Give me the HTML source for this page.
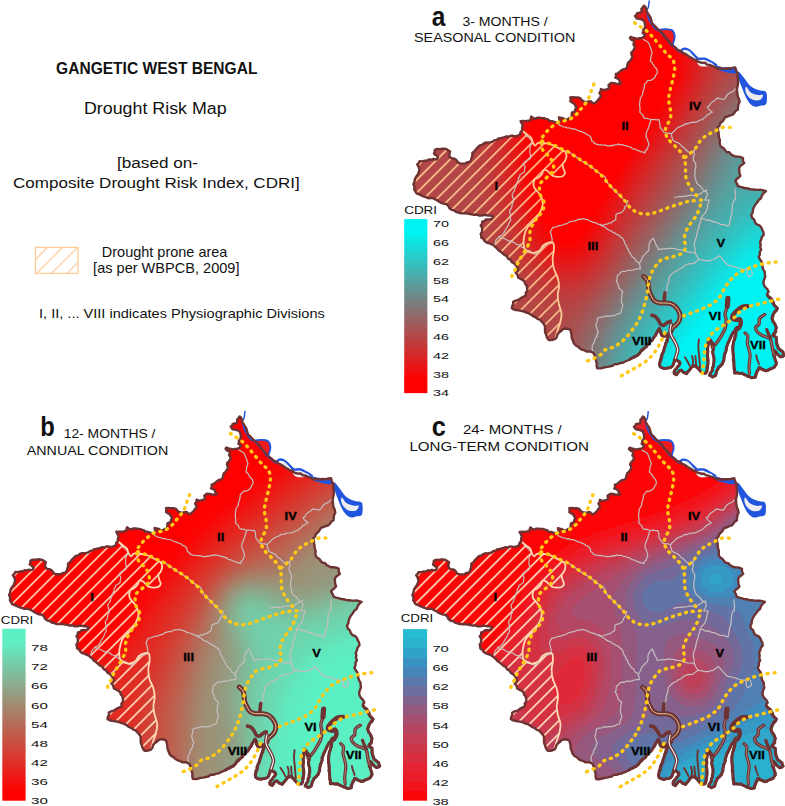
<!DOCTYPE html>
<html><head><meta charset="utf-8"><title>Gangetic West Bengal Drought Risk Map</title>
<style>html,body{margin:0;padding:0;background:#fff}svg{display:block}text{font-family:"Liberation Sans",sans-serif}</style>
</head><body>
<svg width="785" height="806" viewBox="0 0 785 806">
<rect width="785" height="806" fill="#fff"/>

<defs>
<path id="land" d="M643.9,5.7 L642.8,7.5 L641.4,8.9 L641.6,10.9 L640.8,12.7 L638.8,12.8 L636.9,13.4 L636.4,15.0 L635.0,15.9 L635.9,17.2 L636.9,18.5 L639.5,18.9 L642.0,19.7 L643.7,20.6 L644.6,22.3 L644.9,24.2 L645.2,26.1 L644.8,28.3 L643.3,29.9 L643.1,31.5 L642.7,33.1 L645.2,34.4 L643.9,36.9 L641.9,38.1 L639.5,38.2 L637.2,38.8 L635.0,38.2 L632.8,37.7 L630.6,36.9 L629.9,38.2 L631.6,39.9 L633.8,40.8 L634.1,42.8 L633.4,44.6 L634.5,46.0 L635.0,47.8 L633.9,49.3 L633.1,51.0 L631.7,51.9 L631.2,53.5 L631.7,55.1 L632.5,56.7 L631.3,59.0 L629.9,61.1 L628.1,62.7 L627.4,65.0 L627.0,67.2 L625.5,68.8 L623.1,69.3 L621.0,70.7 L619.5,72.0 L617.9,73.3 L615.9,73.9 L616.1,75.9 L615.3,77.7 L617.3,78.4 L619.1,79.6 L619.7,81.7 L621.0,83.4 L618.6,84.0 L616.2,83.7 L613.9,83.2 L611.6,82.9 L609.9,83.9 L608.5,85.2 L609.1,86.7 L609.3,88.3 L607.4,89.0 L605.5,89.8 L603.1,90.0 L600.9,89.0 L600.7,91.2 L599.4,92.9 L600.5,94.6 L600.9,96.7 L599.2,98.4 L597.8,100.5 L596.0,102.1 L594.0,103.6 L592.3,102.7 L591.0,101.3 L589.0,101.5 L587.1,102.0 L585.2,101.7 L583.3,101.3 L581.6,99.9 L580.3,98.2 L577.7,97.4 L574.9,97.5 L572.6,97.2 L570.3,97.5 L570.7,99.4 L570.3,101.3 L572.1,102.5 L574.1,103.6 L575.2,105.5 L576.4,107.4 L575.2,109.5 L574.9,112.0 L573.3,112.0 L571.8,112.7 L571.7,115.4 L571.1,118.1 L569.0,118.2 L567.3,119.6 L564.8,119.4 L562.7,118.1 L560.8,117.8 L558.9,117.3 L559.3,119.3 L560.4,121.1 L558.7,122.3 L556.6,122.7 L554.3,121.9 L552.0,121.1 L549.7,121.0 L548.0,119.4 L545.9,118.9 L543.9,118.2 L541.8,118.1 L539.7,117.8 L537.3,117.8 L535.2,118.9 L533.1,118.0 L531.3,116.6 L530.7,118.5 L530.6,120.4 L528.3,120.6 L526.0,121.1 L523.3,121.0 L520.6,121.1 L521.8,123.4 L522.9,125.7 L522.1,127.9 L522.2,130.3 L520.5,132.3 L519.9,134.9 L517.6,135.7 L515.3,136.4 L513.0,135.8 L510.7,135.7 L508.8,136.8 L506.6,136.4 L504.6,137.2 L502.8,137.6 L500.7,138.2 L498.5,138.5 L496.7,139.9 L494.5,140.2 L492.7,141.7 L490.6,142.2 L488.6,142.6 L486.5,142.5 L484.5,143.0 L482.5,144.7 L479.9,145.3 L478.0,147.2 L476.1,149.1 L474.5,151.3 L472.3,152.9 L472.4,155.7 L471.5,158.3 L470.9,160.5 L469.2,162.1 L467.1,162.2 L465.3,163.6 L463.1,163.6 L460.7,163.6 L458.5,162.9 L457.2,161.4 L456.2,159.8 L454.1,158.6 L451.6,158.3 L450.0,157.1 L449.3,155.2 L449.6,153.3 L450.1,151.4 L448.2,150.2 L446.3,149.1 L444.3,148.6 L442.2,148.7 L440.2,149.1 L437.4,149.0 L434.8,149.9 L434.7,151.9 L434.0,153.7 L436.0,155.2 L437.9,156.8 L437.1,159.0 L435.1,159.5 L433.0,159.0 L431.0,159.8 L428.9,159.4 L427.0,160.8 L424.9,160.6 L422.3,161.4 L419.5,161.3 L418.7,163.1 L417.2,164.4 L418.7,166.9 L419.5,169.7 L418.8,172.0 L418.0,174.3 L416.3,176.5 L414.9,178.9 L414.5,181.7 L413.4,184.3 L414.5,186.8 L414.2,189.6 L415.4,191.4 L416.5,193.4 L419.2,194.4 L421.8,195.7 L424.1,196.6 L426.4,197.3 L428.4,198.2 L430.4,198.0 L432.5,198.0 L434.8,199.2 L437.1,200.3 L438.9,201.6 L440.9,202.6 L443.5,203.6 L446.3,204.1 L448.3,205.7 L449.3,208.0 L451.3,209.7 L453.9,210.3 L456.0,211.8 L458.5,212.5 L461.0,213.3 L463.5,213.4 L466.1,213.3 L468.7,213.7 L471.3,214.2 L473.8,214.8 L476.4,214.5 L478.8,215.5 L481.4,215.6 L483.7,215.0 L486.0,215.0 L488.3,215.6 L490.7,215.6 L492.9,216.4 L492.1,218.7 L490.1,219.4 L488.1,219.4 L486.0,219.4 L484.4,221.1 L482.2,221.7 L482.1,223.9 L480.7,225.5 L481.9,227.3 L482.2,229.4 L482.0,231.8 L480.7,233.9 L481.2,235.8 L481.4,237.8 L483.4,238.8 L484.5,240.8 L486.3,242.3 L488.5,243.0 L490.6,243.9 L493.2,245.0 L495.2,246.9 L496.9,248.2 L498.2,250.0 L500.3,251.4 L502.3,253.1 L504.2,254.8 L506.7,256.1 L508.2,258.6 L510.6,259.9 L511.8,262.1 L514.0,263.3 L515.7,265.0 L517.0,266.9 L518.2,268.8 L517.4,271.0 L515.7,272.6 L517.5,274.9 L518.2,277.7 L520.4,278.8 L522.6,280.0 L524.6,281.5 L525.0,283.8 L526.7,285.6 L527.1,287.9 L527.4,290.5 L525.7,292.9 L525.9,295.5 L523.3,296.8 L520.8,298.1 L518.5,299.8 L515.6,300.6 L513.1,301.9 L513.3,304.2 L512.2,306.2 L511.8,308.3 L513.9,309.6 L516.2,310.0 L518.5,310.4 L520.8,310.8 L523.5,311.4 L526.0,312.5 L528.6,313.2 L531.0,314.6 L533.0,316.2 L535.4,317.2 L537.5,318.8 L539.9,319.7 L541.8,321.7 L543.6,323.7 L545.0,326.1 L545.0,329.1 L545.1,332.1 L546.2,335.0 L547.1,337.8 L548.8,340.1 L551.0,340.1 L553.1,339.7 L555.2,338.9 L556.8,336.9 L557.4,334.4 L559.0,332.5 L560.7,331.3 L562.3,329.8 L564.1,328.7 L566.3,328.5 L568.4,328.9 L570.4,329.9 L571.1,332.4 L571.6,335.0 L571.7,337.6 L572.7,340.3 L573.7,343.0 L575.5,345.2 L577.8,346.4 L579.7,348.3 L581.9,349.6 L584.5,350.3 L586.5,351.6 L589.0,351.4 L591.3,351.9 L593.4,352.9 L594.6,355.3 L595.5,357.8 L595.9,360.5 L596.7,363.0 L596.6,365.7 L597.2,368.2 L599.8,368.4 L602.4,368.0 L604.8,367.2 L607.4,366.9 L610.0,366.3 L612.6,365.8 L614.9,364.1 L617.6,364.1 L620.1,363.1 L622.8,362.7 L625.2,361.5 L627.7,360.5 L630.0,359.2 L632.4,358.0 L634.5,356.4 L637.1,355.6 L639.3,353.9 L640.7,351.5 L643.1,350.0 L644.7,347.7 L646.7,346.6 L647.7,344.5 L649.4,343.0 L650.9,340.9 L653.0,339.5 L654.1,337.1 L655.6,335.3 L656.1,332.9 L657.7,331.2 L658.1,329.5 L659.4,328.3 L660.7,330.5 L660.5,333.2 L661.8,335.4 L663.5,336.2 L665.3,336.2 L666.3,334.6 L668.0,333.8 L667.7,335.5 L668.3,337.1 L666.7,339.6 L666.1,342.6 L665.3,345.4 L664.5,348.2 L663.3,350.8 L662.4,353.6 L662.1,356.5 L661.5,359.3 L660.0,361.9 L659.3,364.2 L660.0,366.6 L661.7,367.7 L663.6,368.4 L666.6,368.1 L669.5,367.8 L671.6,367.1 L673.0,365.4 L673.6,362.7 L674.4,360.1 L675.4,358.4 L676.2,359.9 L677.7,360.7 L678.6,362.2 L680.1,363.1 L679.2,365.1 L677.7,366.6 L676.5,368.6 L674.8,370.1 L674.8,371.9 L674.2,373.7 L676.5,374.8 L677.4,372.8 L678.9,371.3 L681.2,370.1 L682.3,371.4 L683.6,372.5 L685.2,372.8 L686.5,373.7 L687.9,371.8 L689.5,370.1 L690.3,368.1 L691.9,366.6 L693.8,366.5 L695.4,365.4 L696.7,366.5 L697.7,367.8 L698.9,369.2 L700.1,370.7 L701.2,371.8 L702.5,372.7 L704.2,373.5 L706.0,373.1 L706.5,370.5 L707.8,368.1 L707.8,365.4 L707.7,363.0 L707.6,360.7 L707.5,358.3 L707.4,356.0 L706.9,353.6 L707.6,351.3 L707.3,348.9 L707.9,346.6 L707.4,343.8 L708.8,341.1 L708.6,338.3 L710.3,340.1 L711.2,342.4 L712.3,344.9 L713.4,347.5 L712.8,350.2 L712.8,353.0 L713.1,355.2 L713.8,357.4 L714.0,359.7 L713.8,361.9 L713.5,364.2 L713.4,366.4 L712.3,368.1 L712.4,370.3 L711.2,372.0 L710.3,373.7 L709.5,375.4 L711.1,375.9 L712.3,377.0 L713.8,375.9 L715.6,375.4 L716.5,373.2 L716.7,370.9 L717.6,369.2 L718.4,367.5 L720.2,365.9 L721.8,364.2 L722.3,364.2 L723.2,362.1 L724.0,359.9 L724.0,357.5 L724.8,354.7 L725.7,351.9 L726.4,349.7 L726.8,347.4 L727.3,345.2 L728.1,343.3 L729.1,341.6 L729.6,339.6 L730.5,337.7 L731.5,336.0 L732.4,334.1 L733.8,331.8 L735.8,330.0 L736.8,327.4 L737.4,328.5 L736.6,330.7 L735.8,332.8 L735.7,335.2 L734.4,337.2 L734.6,339.8 L733.5,341.9 L733.2,344.1 L732.5,346.3 L732.9,348.6 L732.6,351.6 L733.8,354.5 L733.5,357.5 L734.2,360.4 L733.9,363.4 L734.0,366.4 L734.8,368.6 L734.8,370.8 L734.6,373.1 L736.5,372.5 L738.3,373.1 L740.0,373.3 L741.7,373.1 L743.8,374.6 L746.2,375.4 L747.8,376.7 L750.1,376.6 L751.7,377.8 L753.7,377.7 L755.6,377.0 L756.2,375.1 L756.4,373.1 L756.8,371.0 L758.6,369.6 L759.0,367.5 L760.1,368.9 L761.8,369.2 L764.1,369.7 L766.2,370.9 L768.2,370.6 L769.6,369.2 L771.8,368.2 L774.1,367.5 L775.2,365.8 L776.3,364.2 L776.4,361.8 L775.2,359.7 L774.8,357.3 L773.5,355.3 L773.6,352.9 L774.6,350.8 L776.1,352.4 L777.4,354.2 L779.1,355.6 L780.8,356.9 L782.4,355.9 L784.1,355.3 L783.1,353.7 L783.0,351.9 L780.6,350.5 L778.5,348.6 L778.0,346.2 L776.9,344.1 L776.0,341.9 L776.6,339.6 L776.3,337.4 L774.6,336.4 L772.9,335.2 L773.8,333.1 L775.7,331.8 L775.8,329.6 L776.3,327.4 L775.4,325.1 L774.1,322.9 L773.0,320.6 L771.8,318.4 L772.4,315.4 L774.1,312.9 L776.3,311.1 L777.4,308.4 L776.0,306.4 L774.1,305.0 L773.6,302.0 L771.8,299.5 L769.9,298.4 L768.6,296.7 L767.4,295.0 L767.4,293.2 L768.6,291.8 L767.3,289.1 L765.1,287.0 L763.7,284.3 L763.5,281.8 L764.2,279.3 L765.2,276.9 L764.9,274.4 L764.7,271.8 L763.3,269.5 L762.5,267.1 L762.4,264.5 L761.7,261.7 L760.0,259.5 L758.7,257.0 L759.8,254.6 L759.8,251.9 L761.2,249.6 L760.2,247.2 L760.7,244.6 L760.0,242.2 L761.1,239.7 L761.9,236.9 L763.7,234.7 L763.4,232.0 L762.2,229.7 L761.2,227.3 L759.4,225.3 L756.7,224.4 L755.0,222.3 L754.2,219.6 L752.0,217.6 L751.3,214.9 L752.6,212.6 L752.9,209.9 L753.8,207.4 L755.2,204.8 L757.1,202.5 L758.7,200.0 L761.0,198.2 L762.0,195.3 L763.7,193.0 L765.9,191.1 L763.4,190.4 L760.8,189.8 L758.2,189.9 L755.7,189.8 L753.1,189.5 L750.6,189.4 L748.1,188.5 L745.5,188.3 L742.9,187.5 L740.4,186.9 L737.9,186.0 L736.9,183.3 L735.3,180.9 L736.8,179.0 L738.7,177.5 L740.4,175.8 L739.5,173.3 L739.3,170.8 L739.1,168.2 L740.3,166.0 L742.3,164.6 L744.2,163.1 L742.9,160.7 L743.0,158.0 L740.5,157.0 L737.9,156.6 L735.2,156.5 L732.8,155.4 L730.9,154.2 L729.3,152.3 L726.7,152.0 L725.1,150.3 L723.7,148.3 L721.6,147.0 L720.0,145.2 L719.7,142.7 L719.9,140.0 L719.0,137.6 L718.8,135.0 L718.4,132.5 L718.2,129.9 L717.5,127.4 L719.3,126.1 L719.9,123.9 L721.3,122.3 L722.9,120.9 L724.1,119.1 L725.1,117.2 L727.7,116.5 L730.2,115.3 L732.8,114.6 L734.4,112.8 L735.8,110.8 L737.9,109.6 L738.0,106.9 L738.4,104.3 L739.6,101.9 L739.1,99.2 L737.9,96.8 L737.4,94.3 L737.2,91.7 L736.9,89.2 L737.4,86.6 L738.0,84.1 L738.1,81.5 L737.9,79.0 L737.5,76.4 L737.9,73.9 L736.7,71.9 L735.9,69.7 L735.3,67.5 L732.8,67.8 L730.3,68.5 L727.7,68.3 L725.2,68.5 L722.6,68.9 L720.0,68.0 L717.5,68.8 L715.2,66.9 L712.4,66.2 L709.8,65.0 L707.2,64.6 L704.9,62.8 L702.1,62.9 L699.6,62.1 L697.1,61.1 L696.8,59.9 L694.0,59.6 L691.7,58.0 L689.9,57.1 L688.3,55.9 L686.6,54.8 L684.9,53.7 L683.0,53.0 L681.5,51.6 L679.8,50.5 L677.7,50.1 L676.4,48.4 L674.5,47.1 L672.6,45.8 L671.3,43.9 L669.3,41.8 L667.5,39.5 L665.7,38.2 L664.4,36.5 L663.7,34.4 L661.6,32.7 L659.9,30.6 L657.8,29.3 L656.1,27.4 L654.2,25.4 L652.2,23.6 L651.6,21.3 L651.0,19.1 L650.3,17.0 L649.0,15.3 L647.9,13.3 L646.5,11.5 L646.5,9.8 L645.9,8.3 L645.3,6.7Z"/>
<clipPath id="clipLand"><use href="#land"/></clipPath>
<clipPath id="clipHatch"><path d="M522.9,131.1 L527.5,134.9 L531.3,138.0 L532.9,142.5 L535.2,145.6 L537.5,143.3 L540.5,142.5 L545.9,143.3 L552.0,144.8 L556.6,147.1 L561.1,149.4 L565.0,151.7 L566.5,156.3 L565.0,160.9 L562.7,163.9 L563.4,168.5 L565.0,173.1 L562.7,176.2 L558.1,176.9 L553.5,176.2 L550.4,173.9 L547.4,170.8 L543.6,170.1 L542.0,173.9 L538.2,177.7 L534.4,180.0 L533.8,186.6 L537.6,191.7 L541.4,196.8 L542.7,204.5 L540.1,212.1 L536.3,218.5 L532.5,222.3 L527.4,227.4 L524.8,233.8 L523.6,241.4 L524.8,249.0 L532.5,252.9 L540.1,250.3 L545.2,243.9 L552.9,242.7 L553.9,249.7 L552.6,258.6 L553.9,268.8 L557.7,277.7 L559.0,286.6 L557.7,295.5 L559.0,304.5 L561.5,313.4 L560.3,322.3 L557.7,329.9 L555.2,338.9 L540.0,345.0 L400.0,345.0 L400.0,100.0 L523.0,100.0Z"/></clipPath>
<pattern id="hatchA" width="9.2" height="9.2" patternUnits="userSpaceOnUse" patternTransform="translate(-3.1,0) rotate(-45)"><rect x="0" y="0" width="9.2" height="1.6" fill="#ffc890"/></pattern>
<pattern id="hatchB" width="9.2" height="9.2" patternUnits="userSpaceOnUse" patternTransform="translate(-3.1,0) rotate(-45)"><rect x="0" y="0" width="9.2" height="1.6" fill="#ffe0c0"/></pattern>
<filter id="fa" x="380" y="-20" width="430" height="440" filterUnits="userSpaceOnUse" color-interpolation-filters="sRGB">
 <feGaussianBlur stdDeviation="24"/>
 <feComponentTransfer><feFuncR type="table" tableValues="1.000 1.000 0.900 0.800 0.700 0.600 0.500 0.400 0.300 0.200 0.100 0.000 0.000"/><feFuncG type="table" tableValues="0.000 0.000 0.095 0.190 0.285 0.380 0.475 0.570 0.665 0.760 0.855 0.950 0.950"/><feFuncB type="table" tableValues="0.000 0.000 0.095 0.190 0.285 0.380 0.475 0.570 0.665 0.760 0.855 0.950 0.950"/><feFuncA type="linear" slope="0" intercept="1"/></feComponentTransfer>
</filter>
<filter id="fb" x="380" y="-20" width="430" height="440" filterUnits="userSpaceOnUse" color-interpolation-filters="sRGB">
 <feGaussianBlur stdDeviation="14"/>
 <feComponentTransfer><feFuncR type="table" tableValues="1 0.36"/><feFuncG type="table" tableValues="0 0.94"/><feFuncB type="table" tableValues="0 0.77"/><feFuncA type="linear" slope="0" intercept="1"/></feComponentTransfer>
</filter>
<filter id="fc" x="380" y="-20" width="430" height="440" filterUnits="userSpaceOnUse" color-interpolation-filters="sRGB">
 <feGaussianBlur stdDeviation="14"/>
 <feComponentTransfer><feFuncR type="discrete" tableValues="0.025 0.075 0.125 0.175 0.225 0.275 0.325 0.375 0.425 0.475 0.525 0.575 0.625 0.675 0.725 0.775 0.825 0.875 0.925 0.975"/><feFuncG type="discrete" tableValues="0.025 0.075 0.125 0.175 0.225 0.275 0.325 0.375 0.425 0.475 0.525 0.575 0.625 0.675 0.725 0.775 0.825 0.875 0.925 0.975"/><feFuncB type="discrete" tableValues="0.025 0.075 0.125 0.175 0.225 0.275 0.325 0.375 0.425 0.475 0.525 0.575 0.625 0.675 0.725 0.775 0.825 0.875 0.925 0.975"/></feComponentTransfer>
 <feGaussianBlur stdDeviation="0.6"/>
 <feComponentTransfer><feFuncR type="table" tableValues="1.0 0.94 0.88 0.78 0.69 0.55 0.39 0.24 0.18 0.14"/><feFuncG type="table" tableValues="0 0.10 0.16 0.23 0.29 0.37 0.45 0.55 0.67 0.76"/><feFuncB type="table" tableValues="0 0.14 0.22 0.31 0.41 0.53 0.65 0.75 0.80 0.84"/><feFuncA type="linear" slope="0" intercept="1"/></feComponentTransfer>
</filter>
<linearGradient id="lgA" x1="0" y1="0" x2="0" y2="1"><stop offset="0" stop-color="#00f2f2"/><stop offset="0.08" stop-color="#00f2f2"/><stop offset="0.92" stop-color="#ff0000"/><stop offset="1" stop-color="#ff0000"/></linearGradient>
<linearGradient id="lgB" x1="0" y1="0" x2="0" y2="1"><stop offset="0" stop-color="#5cf0c4"/><stop offset="0.09" stop-color="#60ecc2"/><stop offset="0.95" stop-color="#ff0000"/><stop offset="1" stop-color="#ff0000"/></linearGradient>
<linearGradient id="lgC" x1="0" y1="0" x2="0" y2="1"><stop offset="0.0000" stop-color="#26bcd3"/><stop offset="0.0556" stop-color="#26bcd3"/><stop offset="0.0556" stop-color="#2bb0ce"/><stop offset="0.1111" stop-color="#2bb0ce"/><stop offset="0.1111" stop-color="#31a3c8"/><stop offset="0.1667" stop-color="#31a3c8"/><stop offset="0.1667" stop-color="#3993c2"/><stop offset="0.2222" stop-color="#3993c2"/><stop offset="0.2222" stop-color="#4685b8"/><stop offset="0.2778" stop-color="#4685b8"/><stop offset="0.2778" stop-color="#5979ac"/><stop offset="0.3333" stop-color="#5979ac"/><stop offset="0.3333" stop-color="#6d6d9e"/><stop offset="0.3889" stop-color="#6d6d9e"/><stop offset="0.3889" stop-color="#82638e"/><stop offset="0.4444" stop-color="#82638e"/><stop offset="0.4444" stop-color="#95597f"/><stop offset="0.5000" stop-color="#95597f"/><stop offset="0.5000" stop-color="#a74f70"/><stop offset="0.5556" stop-color="#a74f70"/><stop offset="0.5556" stop-color="#b54662"/><stop offset="0.6111" stop-color="#b54662"/><stop offset="0.6111" stop-color="#c13e55"/><stop offset="0.6667" stop-color="#c13e55"/><stop offset="0.6667" stop-color="#cd3649"/><stop offset="0.7222" stop-color="#cd3649"/><stop offset="0.7222" stop-color="#da2d3d"/><stop offset="0.7778" stop-color="#da2d3d"/><stop offset="0.7778" stop-color="#e42432"/><stop offset="0.8333" stop-color="#e42432"/><stop offset="0.8333" stop-color="#eb1d28"/><stop offset="0.8889" stop-color="#eb1d28"/><stop offset="0.8889" stop-color="#f3131a"/><stop offset="0.9444" stop-color="#f3131a"/><stop offset="0.9444" stop-color="#fb0608"/><stop offset="1.0000" stop-color="#fb0608"/></linearGradient>
</defs>
<g transform="translate(0,0)"><g clip-path="url(#clipLand)"><g filter="url(#fa)"><rect x="300" y="-100" width="600" height="600" fill="#545454"/><path d="M515.0,95.0 L600.0,60.0 L650.0,-10.0 L700.0,50.0 L686.0,95.0 L642.0,160.0 L605.0,222.0 L578.0,285.0 L545.0,262.0 L515.0,190.0Z" fill="#000000"/><path d="M575.0,420.0 L600.0,330.0 L640.0,270.0 L690.0,200.0 L715.0,150.0 L740.0,100.0 L800.0,80.0 L800.0,420.0Z" fill="#a8a8a8"/><path d="M625.0,420.0 L650.0,345.0 L690.0,290.0 L730.0,240.0 L800.0,180.0 L800.0,420.0Z" fill="#d9d9d9"/><path d="M648.0,420.0 L668.0,352.0 L712.0,305.0 L752.0,258.0 L800.0,215.0 L800.0,420.0Z" fill="#ffffff"/></g></g><g clip-path="url(#clipLand)"><g clip-path="url(#clipHatch)"><rect x="380" y="80" width="220" height="300" fill="url(#hatchA)"/></g></g><path d="M642.7,39.5 L644.5,40.0 L646.2,41.1 L647.8,42.0 L648.9,43.6 L649.6,45.3 L650.3,47.1 L650.9,48.8 L651.4,50.6 L652.2,52.2 L651.9,54.2 L651.0,56.1 L650.8,58.6 L650.3,61.1 L652.2,62.8 L653.5,65.0 L654.8,67.1 L656.7,68.8 L657.2,71.0 L657.3,73.2 L656.0,74.6 L655.4,76.4 L654.1,78.3 L652.2,79.6 L650.1,80.5 L647.8,80.3 L646.3,82.3 L644.6,84.1 L644.3,86.7 L643.9,89.2 L643.2,90.8 L642.7,92.5 L642.7,94.3 L641.4,96.5 L640.1,98.7 L640.2,100.3 L639.8,101.9 L639.6,104.5 L639.8,107.0 L640.1,109.5 L639.8,112.1 L641.2,113.6 L642.8,115.0 L643.4,117.0 L644.9,118.5 L647.1,118.4 L649.2,119.0 L651.2,119.7 L650.4,121.6 L649.8,123.5 L649.2,125.4 L648.7,127.4 L647.9,129.3 L647.1,131.1 L646.3,132.9 L646.1,135.0 L646.1,137.2 L647.3,139.0 L647.8,141.1 L648.6,143.1 L648.7,145.2 L647.8,147.2 L647.1,149.2 L645.4,150.8 L644.9,152.9 L643.1,152.0 L641.0,151.9 L639.2,150.8 L637.2,150.3 L635.1,149.1 L632.6,148.8 L630.7,147.1 L628.3,146.5 L626.3,145.7 L624.2,145.5 L622.3,144.5 L620.0,144.9 L618.1,143.9 L616.6,145.0 L614.7,144.8 L613.1,145.6 L611.1,145.4 L609.0,146.1 L607.0,145.6 L605.0,145.2 L602.9,145.0 L600.9,144.8 L598.6,144.6 L596.3,144.1 L594.5,143.4 L593.4,141.7 L591.7,141.0 L591.4,138.6 L590.2,136.4 L588.7,135.3 L587.0,134.7 L585.6,133.4 L583.6,132.6 L581.6,131.7 L579.5,131.1 L577.5,130.3 L575.6,129.3 L573.4,128.8 L571.3,128.8 L569.4,127.8 L567.3,128.0 L565.3,127.0 L563.0,126.8 L561.1,125.7 L559.3,125.1 L558.3,123.4 L556.6,122.7" fill="none" stroke="#c6bebe" stroke-width="1.2" stroke-linejoin="round"/><path d="M651.2,119.7 L653.8,119.3 L656.3,119.9 L658.9,119.7 L659.4,121.6 L659.9,123.5 L659.9,125.5 L660.2,127.4 L661.5,129.1 L662.8,130.8 L664.0,132.5 L666.5,132.9 L669.1,133.1 L671.6,133.8 L673.0,132.0 L674.9,130.7 L676.3,128.9 L678.0,127.4 L680.0,126.6 L681.9,125.8 L683.9,124.9 L685.6,123.6 L687.9,123.8 L690.1,122.7 L692.3,122.3 L694.6,122.3 L696.6,121.9 L698.4,121.1 L700.2,120.0 L702.2,119.7 L704.0,118.1 L705.9,116.6 L707.3,114.6 L709.2,114.1 L710.6,112.7 L712.4,112.1 L710.5,110.6 L708.6,109.1 L707.3,107.0 L709.4,105.7 L710.5,103.4 L712.4,101.9 L714.2,100.8 L715.8,99.4 L717.5,98.1 L719.6,98.6 L721.8,99.0 L723.9,99.4 L725.5,97.9 L726.5,96.1 L727.7,94.3 L729.3,93.2 L730.9,92.2 L732.8,91.7 L734.3,90.0 L736.2,88.6 L737.4,86.6" fill="none" stroke="#c6bebe" stroke-width="1.2" stroke-linejoin="round"/><path d="M671.6,133.8 L671.6,136.0 L672.3,138.0 L672.9,140.1 L674.5,141.2 L676.1,142.2 L678.0,142.7 L679.8,143.8 L681.1,145.4 L682.5,146.9 L684.4,147.8 L685.8,149.8 L687.7,151.3 L689.5,152.9 L691.0,151.7 L692.9,151.1 L694.6,150.3 L693.7,152.1 L694.4,154.2 L693.8,156.1 L693.3,158.0 L693.5,160.1 L694.6,161.8 L695.5,163.6 L695.8,165.6 L695.7,168.2 L694.8,170.6 L695.1,173.3 L694.6,175.8 L695.3,177.7 L695.7,179.6 L696.2,181.6 L697.1,183.4 L698.8,185.1 L700.8,186.5 L702.2,188.5 L703.8,190.3 L706.0,191.5 L707.3,193.6 L706.8,195.9 L705.9,198.0 L704.7,200.0 L706.9,200.2 L709.1,200.0 L708.7,202.5 L707.6,204.9 L707.6,207.5 L706.6,209.9 L705.7,212.0 L704.6,213.9 L702.7,215.4 L701.7,217.4 L700.7,219.1 L700.7,221.2 L700.1,223.0 L699.2,224.8 L699.1,227.4 L697.8,229.7 L697.5,232.3 L696.7,234.7 L696.5,237.3 L695.3,239.6 L694.7,242.1 L694.2,244.6 L694.6,246.8 L695.2,248.9 L695.0,251.1 L695.5,253.3" fill="none" stroke="#c6bebe" stroke-width="1.2" stroke-linejoin="round"/><path d="M674.2,197.5 L676.7,197.0 L679.2,196.5 L681.8,196.6 L684.3,196.1 L686.9,196.2 L689.4,195.4 L692.0,195.4 L694.6,195.7 L697.1,194.9 L699.3,194.2 L701.3,193.1 L703.1,191.6 L705.3,190.9 L707.3,189.8" fill="none" stroke="#c6bebe" stroke-width="1.2" stroke-linejoin="round"/><path d="M522.9,131.8 L524.7,133.1 L525.8,135.0 L527.4,136.5 L529.1,137.9 L530.6,139.5 L532.0,141.2 L532.9,143.3 L531.5,144.2 L530.6,145.6 L530.0,147.6 L530.1,149.7 L529.8,151.7 L530.1,153.7 L530.6,155.7 L530.6,157.8 L529.4,159.3 L527.6,160.0 L526.0,160.9 L524.4,162.3 L522.9,163.9 L524.4,165.2 L525.2,167.0 L524.5,169.3 L524.5,171.6 L523.1,172.8 L521.6,173.8 L519.9,174.6 L519.8,176.5 L518.3,178.0 L518.3,180.0 L517.3,182.1 L516.3,184.3 L515.9,186.6 L514.8,188.5 L514.5,190.7 L513.2,192.5 L512.1,194.3 L512.5,196.8 L513.4,199.3 L513.4,201.9 L512.2,203.8 L512.0,206.0 L511.5,208.2 L510.0,209.9 L509.6,212.1 L510.4,214.6 L509.9,217.2 L510.8,219.7 L509.9,221.6 L508.8,223.5 L508.1,225.6 L507.0,227.4 L505.7,229.3 L504.7,231.4 L503.6,233.4 L501.9,235.0 L500.0,236.0 L498.7,237.8 L496.8,238.9 L495.7,240.9 L495.4,243.2 L494.3,245.2" fill="none" stroke="#c6bebe" stroke-width="1.2" stroke-linejoin="round"/><path d="M498.1,236.3 L500.3,237.2 L502.6,238.1 L504.9,238.8 L507.0,240.1 L508.8,241.1 L511.0,240.9 L512.7,242.1 L514.6,242.7 L516.5,244.3 L519.1,244.8 L521.0,246.5 L523.1,247.8 L525.2,249.1 L527.4,250.3 L529.5,250.8 L531.3,252.1 L533.0,253.4 L535.0,254.1 L536.9,253.4 L538.9,252.9 L540.1,251.1 L540.5,248.9 L541.5,247.0 L542.7,245.2 L544.6,244.3 L546.8,244.2 L548.9,244.2 L550.9,243.3 L552.9,242.7" fill="none" stroke="#c6bebe" stroke-width="1.2" stroke-linejoin="round"/><path d="M565.7,150.2 L567.6,151.4 L569.6,152.4 L571.4,153.7 L573.4,154.8 L575.6,156.1 L577.3,158.1 L579.5,159.4 L581.2,160.8 L583.2,161.8 L585.4,162.5 L587.1,163.9 L589.1,165.5 L591.3,166.8 L593.2,168.5 L595.4,169.8 L597.0,172.0 L599.4,173.1 L601.1,175.1 L603.8,175.8 L605.5,177.7 L605.9,179.8 L607.0,181.5 L607.9,183.4 L609.5,184.8 L611.1,186.3 L612.4,188.2 L614.1,189.5 L615.6,191.1 L617.0,192.8 L618.5,194.3 L620.4,195.4 L621.5,197.4 L623.2,198.7" fill="none" stroke="#c6bebe" stroke-width="1.2" stroke-linejoin="round"/><path d="M552.9,242.7 L552.0,240.8 L552.1,238.6 L551.5,236.5 L551.3,234.4 L550.3,232.5 L550.9,230.7 L551.8,229.0 L552.9,227.4 L555.0,227.1 L557.0,226.5 L559.0,225.6 L561.1,225.5 L563.1,224.8 L565.1,223.9 L567.2,223.6 L569.0,222.1 L571.1,221.5 L573.2,221.0 L575.3,220.9 L577.2,219.8 L579.3,219.2 L581.4,219.3 L583.4,218.5 L585.4,219.4 L587.6,219.7 L589.5,220.8 L591.5,221.7 L593.6,222.3 L595.9,222.8 L597.9,224.1 L600.3,224.3 L602.3,225.5 L604.0,224.9 L605.6,224.2 L607.4,224.2 L609.2,223.0 L611.4,222.8 L613.1,221.3 L615.0,220.4 L616.0,218.4 L615.8,216.1 L616.3,214.0 L618.5,213.3 L620.7,212.7 L622.7,211.5 L624.1,209.5 L624.9,207.0 L626.5,205.1 L627.0,203.4 L627.5,201.7 L627.8,200.0" fill="none" stroke="#c6bebe" stroke-width="1.2" stroke-linejoin="round"/><path d="M599.7,224.2 L601.5,225.7 L603.7,226.5 L605.7,227.8 L607.4,229.3 L609.3,230.3 L611.4,230.8 L613.0,232.4 L615.0,233.1 L616.8,234.6 L619.1,235.2 L620.7,237.1 L622.7,238.2 L623.6,240.1 L624.5,242.1 L625.1,244.2 L626.5,245.9 L627.0,248.0 L628.5,249.7 L629.0,251.8 L630.3,253.5 L631.3,255.3 L632.4,257.0 L634.5,258.0 L635.4,259.9 L636.3,261.5 L638.1,262.2 L639.2,263.7 L640.0,265.3 L640.0,267.1 L640.5,268.8 L637.9,268.9 L635.3,269.2 L632.9,270.1 L630.4,270.5 L627.8,270.3 L625.3,271.5 L622.7,271.3 L620.7,272.2 L619.4,274.1 L617.6,275.2 L617.1,277.3 L617.1,279.5 L616.3,281.5 L617.6,283.4 L618.5,285.6 L618.9,287.9 L620.1,289.2 L621.4,290.5 L622.7,291.7 L622.0,293.6 L621.7,295.5 L621.8,297.5 L621.4,299.4 L621.5,302.0 L622.6,304.4 L622.7,307.0 L621.4,309.0 L621.2,311.4 L620.1,313.4 L618.0,313.6 L616.3,314.8 L614.4,315.4 L612.5,315.9 L609.9,315.9 L607.4,316.4 L604.8,315.9 L603.1,317.0 L601.0,317.2 L599.0,317.6 L597.2,318.5 L597.3,321.1 L596.4,323.6 L595.9,326.1 L596.9,328.2 L597.3,330.5 L598.5,332.5 L597.0,334.2 L597.0,336.5 L595.5,338.2 L594.6,340.1 L594.4,342.2 L593.1,343.9 L592.3,345.7 L592.1,347.8 L592.3,349.6 L592.9,351.2 L593.4,352.9" fill="none" stroke="#c6bebe" stroke-width="1.2" stroke-linejoin="round"/><path d="M639.2,263.7 L640.3,261.9 L641.4,260.0 L642.1,258.0 L643.1,256.1 L644.8,254.4 L646.4,252.6 L648.2,251.0 L649.1,248.5 L648.8,245.8 L649.4,243.3 L650.4,241.4 L651.7,239.7 L653.2,238.2 L654.3,240.2 L655.1,242.4 L655.8,244.6 L656.9,246.2 L657.9,247.8 L658.3,249.7 L660.8,249.2 L663.4,248.8 L666.0,248.8 L668.5,248.4 L670.8,248.3 L673.2,248.5 L675.4,248.9 L677.7,249.5 L680.0,249.7 L682.2,250.1 L684.3,250.8 L686.5,251.6 L688.7,252.1 L691.0,252.2 L693.4,252.4 L695.5,253.3 L696.5,255.5 L697.7,257.6 L699.2,259.5 L697.6,260.8 L695.8,261.8 L694.2,263.2 L691.8,263.9 L689.2,263.6 L686.8,264.5 L684.9,265.4 L683.3,266.7 L681.8,268.2 L679.7,268.7 L678.2,270.3 L676.2,270.9 L674.4,271.9 L672.6,273.4 L670.8,275.0 L669.4,276.9 L668.9,279.4 L668.6,281.9 L667.5,284.3 L667.0,286.8 L667.1,289.3 L666.1,291.7 L666.6,294.3 L665.7,296.7" fill="none" stroke="#c6bebe" stroke-width="1.2" stroke-linejoin="round"/><path d="M701.7,218.6 L704.2,218.9 L706.5,220.3 L709.2,220.1 L711.6,221.1 L713.4,221.9 L715.4,221.9 L717.2,222.7 L719.0,223.6 L721.4,224.7 L724.1,224.5 L726.5,225.6 L729.0,226.0 L729.4,223.8 L729.9,221.5 L730.4,219.3 L730.6,217.0 L731.4,214.9 L732.2,212.5 L731.8,209.9 L732.4,207.4 L732.5,204.9 L733.2,202.4 L733.9,200.0 L735.3,200.0 L735.2,197.7 L735.7,195.4 L735.2,193.1 L734.9,190.8 L735.3,188.5" fill="none" stroke="#c6bebe" stroke-width="1.2" stroke-linejoin="round"/><path d="M699.2,259.5 L701.7,259.9 L704.1,260.4 L706.6,260.8 L709.2,260.8 L711.6,259.9 L714.1,259.5 L715.7,258.3 L717.4,257.1 L719.0,255.8 L720.9,257.2 L722.3,259.1 L724.0,260.8 L725.6,262.5 L727.1,264.3 L729.0,265.7 L731.6,265.9 L734.0,266.7 L736.5,267.1 L738.9,268.2 L741.3,268.9 L743.8,269.2 L746.3,269.4 L747.4,271.1 L747.0,273.3 L747.7,275.2 L748.8,276.9 L750.7,275.8 L752.5,274.4 L752.0,271.9 L751.3,269.4" fill="none" stroke="#c6bebe" stroke-width="1.2" stroke-linejoin="round"/><path d="M522.9,131.1 C523.7,131.7 526.1,133.8 527.5,134.9 C528.9,136.1 530.4,136.7 531.3,138.0 C532.2,139.3 532.2,141.2 532.9,142.5 C533.5,143.8 534.4,145.5 535.2,145.6 C536.0,145.7 536.6,143.8 537.5,143.3 C538.4,142.8 539.1,142.5 540.5,142.5 C541.9,142.5 544.0,142.9 545.9,143.3 C547.8,143.7 550.2,144.2 552.0,144.8 C553.8,145.4 555.1,146.3 556.6,147.1 C558.1,147.9 559.7,148.6 561.1,149.4 C562.5,150.2 564.1,150.5 565.0,151.7 C565.9,152.8 566.5,154.8 566.5,156.3 C566.5,157.8 565.6,159.6 565.0,160.9 C564.4,162.2 563.0,162.6 562.7,163.9 C562.4,165.2 563.0,167.0 563.4,168.5 C563.8,170.0 565.1,171.8 565.0,173.1 C564.9,174.4 563.9,175.6 562.7,176.2 C561.6,176.8 559.6,176.9 558.1,176.9 C556.6,176.9 554.8,176.7 553.5,176.2 C552.2,175.7 551.4,174.8 550.4,173.9 C549.4,173.0 548.5,171.4 547.4,170.8 C546.3,170.2 544.5,169.6 543.6,170.1 C542.7,170.6 542.9,172.6 542.0,173.9 C541.1,175.2 539.5,176.7 538.2,177.7 C536.9,178.7 535.1,178.5 534.4,180.0 C533.7,181.5 533.3,184.7 533.8,186.6 C534.3,188.5 536.3,190.0 537.6,191.7 C538.9,193.4 540.5,194.7 541.4,196.8 C542.2,198.9 542.9,201.9 542.7,204.5 C542.5,207.1 541.2,209.8 540.1,212.1 C539.0,214.4 537.6,216.8 536.3,218.5 C535.0,220.2 534.0,220.8 532.5,222.3 C531.0,223.8 528.7,225.5 527.4,227.4 C526.1,229.3 525.4,231.5 524.8,233.8 C524.2,236.1 523.6,238.9 523.6,241.4 C523.6,243.9 523.3,247.1 524.8,249.0 C526.3,250.9 530.0,252.7 532.5,252.9 C535.0,253.1 538.0,251.8 540.1,250.3 C542.2,248.8 543.1,245.2 545.2,243.9 C547.3,242.6 551.5,241.7 552.9,242.7 C554.3,243.7 553.9,247.0 553.9,249.7 C553.9,252.3 552.6,255.4 552.6,258.6 C552.6,261.8 553.0,265.6 553.9,268.8 C554.8,272.0 556.9,274.7 557.7,277.7 C558.6,280.7 559.0,283.6 559.0,286.6 C559.0,289.6 557.7,292.5 557.7,295.5 C557.7,298.5 558.4,301.5 559.0,304.5 C559.6,307.5 561.3,310.4 561.5,313.4 C561.7,316.4 560.9,319.6 560.3,322.3 C559.7,325.1 558.6,327.1 557.7,329.9 C556.9,332.7 555.6,337.4 555.2,338.9" fill="none" stroke="#ffcc99" stroke-width="1.8" stroke-linejoin="round"/><path d="M659.4,30.5 C659.4,29.1 663.8,29.2 665.9,29.2 C668.0,29.2 670.8,29.3 672.3,30.5 C673.8,31.7 674.6,34.5 674.7,36.6 C674.9,38.7 673.8,41.5 673.2,42.9 C672.7,44.3 672.6,46.1 671.4,45.3 C670.2,44.5 667.9,40.4 665.9,37.9 C663.9,35.4 659.4,31.9 659.4,30.5Z" fill="#ee1c1c" stroke="#2255dd" stroke-width="1.8" stroke-linejoin="round"/><path d="M649.2,0.9 C649.1,2.0 648.8,5.7 648.3,7.4 C647.8,9.1 646.5,9.6 646.5,11.1 C646.5,12.6 647.5,14.8 648.3,16.6 C649.1,18.5 650.0,20.4 651.1,22.2 C652.2,24.0 653.4,26.3 654.8,27.7 C656.2,29.1 658.6,30.0 659.4,30.5" fill="none" stroke="#2255dd" stroke-width="1.5" stroke-linecap="round"/><path d="M648.3,16.6 C648.8,17.5 650.0,20.4 651.1,22.2 C652.2,24.0 653.4,26.3 654.8,27.7 C656.2,29.1 658.6,30.0 659.4,30.5" fill="none" stroke="#2255dd" stroke-width="2.6" stroke-linecap="round"/><path d="M671.4,44.3 C672.8,45.5 677.7,50.6 679.7,51.4 C681.7,52.2 682.0,49.1 683.4,48.9 C684.8,48.6 686.7,49.0 688.4,49.9 C690.1,50.8 692.0,53.0 693.6,54.5 C695.2,56.0 696.4,58.0 698.2,58.7 C700.0,59.4 702.5,58.2 704.6,58.7 C706.8,59.2 709.2,60.9 711.1,61.9 C713.0,62.9 715.3,64.5 716.1,65.0" fill="none" stroke="#2255dd" stroke-width="2.4" stroke-linecap="round"/><path d="M716.1,65.6 C716.6,65.1 718.9,66.5 721.3,66.9 C723.7,67.3 728.0,67.5 730.5,68.0 C733.0,68.5 735.0,69.0 736.1,69.8 C737.2,70.6 737.6,72.4 737.0,73.0 C736.4,73.6 734.4,73.7 732.4,73.5 C730.4,73.3 727.3,72.6 725.0,72.0 C722.7,71.4 720.0,70.9 718.5,69.8 C717.0,68.7 715.6,66.1 716.1,65.6Z" fill="#2255dd"/><path d="M737.0,72.4 C736.9,73.6 738.0,77.0 738.8,79.4 C739.6,81.8 740.5,84.0 741.6,86.8 C742.7,89.6 744.0,93.4 745.3,96.1 C746.6,98.8 747.9,101.2 749.4,102.9 C750.9,104.7 752.7,106.1 754.5,106.6 C756.3,107.1 758.4,106.2 760.4,105.7 C762.4,105.2 765.2,106.0 766.2,103.8 C767.2,101.6 767.3,94.6 766.3,92.4 C765.3,90.2 762.3,91.1 760.4,90.5 C758.5,89.9 756.7,89.6 754.9,88.7 C753.1,87.8 751.2,86.8 749.4,85.0 C747.5,83.2 745.4,79.7 743.8,77.6 C742.2,75.5 740.8,73.3 739.7,72.4 C738.6,71.5 737.1,71.2 737.0,72.4Z" fill="#2255dd"/><path d="M685.8,51.4 C685.8,50.6 687.3,50.2 688.4,50.8 C689.5,51.4 691.4,53.6 692.6,55.0 C693.8,56.4 695.4,58.5 695.4,59.1 C695.4,59.7 693.8,59.3 692.6,58.7 C691.4,58.1 689.5,56.6 688.4,55.4 C687.3,54.2 685.8,52.2 685.8,51.4Z" fill="#ececec"/><path d="M697.3,61.9 C697.9,61.0 701.4,60.5 703.7,60.6 C706.0,60.8 709.5,62.1 711.1,62.8 C712.7,63.5 714.3,64.4 713.5,65.0 C712.7,65.6 708.8,66.3 706.5,66.5 C704.2,66.7 701.5,66.7 700.0,65.9 C698.5,65.1 696.7,62.8 697.3,61.9Z" fill="#ececec"/><path d="M746.2,86.8 C747.1,87.0 748.8,91.0 750.8,92.4 C752.8,93.8 756.2,94.6 758.2,95.1 C760.2,95.5 762.6,94.3 763.0,95.1 C763.4,95.9 762.0,98.9 760.4,99.7 C758.8,100.5 755.6,100.6 753.6,100.1 C751.6,99.5 749.6,97.9 748.2,96.4 C746.9,94.9 745.8,92.5 745.5,90.9 C745.2,89.3 745.3,86.5 746.2,86.8Z" fill="#ececec"/><use href="#land" fill="none" stroke="#6e3232" stroke-width="2.4" stroke-linejoin="round"/><path d="M630.0,359.2 L631.7,358.1 L633.6,357.4 L635.3,356.4 L637.1,355.6 L638.7,354.1 L640.2,352.5 L641.3,350.6 L642.8,348.9 L644.7,347.7 L646.5,346.4 L647.7,344.4 L649.4,343.0 L650.4,341.4 L652.1,340.4 L652.9,338.6 L654.1,337.1 L655.6,335.3 L656.5,333.2 L657.7,331.2 L658.7,329.8 L659.4,328.3 L660.5,330.6 L660.9,333.1 L661.8,335.4 L663.5,336.2 L665.3,336.2 L666.7,335.0 L668.0,333.8 L667.9,335.5 L668.3,337.1 L667.4,339.1 L667.2,341.4 L665.8,343.2 L665.3,345.4 L664.5,347.4 L664.0,349.6 L663.6,351.7 L662.4,353.6 L661.4,355.6 L661.2,357.8 L660.4,359.8 L660.0,361.9 L659.6,364.2 L660.0,366.6 L661.7,367.7 L663.6,368.4 L665.6,368.6 L667.5,367.9 L669.5,367.8 L671.4,366.8 L673.0,365.4 L673.4,363.6 L674.4,362.0 L674.4,360.1 L675.4,358.4 L676.3,359.8 L677.7,360.7 L679.2,361.6 L680.1,363.1 L679.2,365.1 L677.7,366.6 L676.5,368.5 L674.8,370.1 L674.0,371.8 L674.2,373.7 L675.4,374.2 L676.5,374.8 L677.8,373.1 L678.9,371.3 L680.0,370.5 L681.2,370.1 L682.4,371.3 L683.6,372.5 L685.1,373.0 L686.5,373.7 L687.9,371.8 L689.5,370.1 L690.8,368.4 L691.9,366.6 L693.7,366.1 L695.4,365.4 L696.3,366.9 L697.7,367.8 L698.8,369.4 L700.1,370.7 L701.0,372.0 L702.5,372.7 L704.2,373.3 L706.0,373.1 L706.9,371.3 L707.1,369.3 L707.0,367.2 L707.8,365.4 L708.1,363.0 L708.1,360.7 L707.9,358.3 L707.4,356.0 L707.6,353.7 L707.9,351.3 L707.5,348.9 L707.9,346.6 L708.4,344.6 L708.3,342.5 L708.2,340.4 L708.6,338.3 L710.3,340.1 L711.2,342.4 L711.6,344.2 L712.2,346.0 L713.4,347.5 L713.6,349.4 L712.7,351.1 L712.8,353.0 L713.3,355.2 L713.9,357.4 L714.0,359.7 L714.0,362.0 L713.3,364.1 L713.4,366.4 L712.3,368.1 L712.4,370.3 L711.2,372.0 L710.2,373.6 L709.5,375.4 L711.1,375.8 L712.3,377.0 L714.0,376.4 L715.6,375.4 L716.0,373.1 L716.7,370.9 L717.9,369.4 L718.4,367.5 L720.4,366.2 L721.8,364.2 L722.3,364.2 L722.9,362.0 L723.9,359.9 L724.0,357.5 L724.4,355.6 L724.7,353.6 L725.7,351.9 L726.3,349.7 L726.3,347.3 L727.3,345.2 L727.8,343.2 L728.7,341.4 L729.6,339.6 L730.6,337.8 L731.2,335.8 L732.4,334.1 L733.1,332.2 L734.9,331.0 L735.5,329.0 L736.8,327.4 L737.4,328.5 L736.4,330.6 L735.9,332.9 L735.7,335.2 L735.1,337.5 L734.3,339.7 L733.5,341.9 L733.3,344.1 L733.0,346.4 L732.9,348.6 L733.0,350.8 L733.1,353.1 L733.2,355.3 L733.5,357.5 L733.2,359.7 L733.7,362.0 L733.9,364.2 L734.0,366.4 L734.0,368.7 L734.7,370.8 L734.6,373.1 L736.5,372.9 L738.3,373.1 L740.0,373.6 L741.7,373.1 L743.2,373.9 L744.7,374.7 L746.2,375.4 L748.2,375.8 L749.9,376.9 L751.7,377.8 L753.7,377.5 L755.6,377.0 L755.5,375.0 L756.4,373.1 L757.4,371.3 L758.3,369.4 L759.0,367.5 L760.6,368.0 L761.8,369.2 L764.0,370.2 L766.2,370.9 L767.9,370.0 L769.6,369.2 L771.9,368.5 L774.1,367.5 L775.1,365.8 L776.3,364.2 L776.0,361.9 L775.2,359.7 L774.6,357.4 L773.5,355.3 L773.6,352.9 L774.6,350.8 L776.3,352.2 L777.4,354.2 L779.0,355.7 L780.8,356.9 L782.7,356.5 L784.1,355.3 L783.3,353.7 L783.0,351.9 L781.5,350.8 L780.1,349.6 L778.5,348.6 L777.5,346.4 L776.9,344.1 L776.6,341.9 L776.3,339.7 L776.3,337.4 L774.5,336.4 L772.9,335.2 L774.4,333.6 L775.7,331.8 L775.8,329.6 L776.3,327.4 L775.5,326.0 L775.1,324.3 L774.1,322.9 L772.9,321.6 L772.6,319.9 L771.8,318.4 L772.8,316.7 L773.2,314.7 L774.1,312.9 L775.0,311.2 L776.5,310.1 L777.4,308.4 L775.6,306.9 L774.1,305.0 L773.0,303.3 L772.5,301.4 L771.8,299.5 L770.5,297.9 L768.6,296.8 L767.4,295.0" fill="none" stroke="#6e3232" stroke-width="3.0" stroke-linejoin="round" stroke-linecap="round"/><path d="M643.6,276.4 C644.2,277.0 646.3,278.4 647.1,280.0 C647.9,281.6 648.2,284.0 648.5,285.7 C648.8,287.4 648.4,288.5 648.8,290.0 C649.1,291.5 649.7,292.9 650.6,294.7 C651.5,296.5 652.5,299.2 654.1,300.6 C655.7,302.0 657.8,302.6 660.0,303.0 C662.2,303.4 664.9,302.7 667.1,303.0 C669.3,303.3 671.2,303.6 673.0,304.7 C674.8,305.8 676.5,307.6 677.7,309.4 C678.9,311.2 679.9,313.3 680.1,315.3 C680.3,317.3 679.7,319.5 678.9,321.2 C678.1,322.9 676.5,324.3 675.4,325.4 C674.3,326.5 673.1,326.7 672.4,327.7 C671.7,328.7 671.4,330.6 671.2,331.2" fill="none" stroke="#6e3232" stroke-width="5.0" stroke-linecap="round" stroke-linejoin="round"/><path d="M643.6,276.4 C644.2,277.0 646.3,278.4 647.1,280.0 C647.9,281.6 648.2,284.0 648.5,285.7 C648.8,287.4 648.4,288.5 648.8,290.0 C649.1,291.5 649.7,292.9 650.6,294.7 C651.5,296.5 652.5,299.2 654.1,300.6 C655.7,302.0 657.8,302.6 660.0,303.0 C662.2,303.4 664.9,302.7 667.1,303.0 C669.3,303.3 671.2,303.6 673.0,304.7 C674.8,305.8 676.5,307.6 677.7,309.4 C678.9,311.2 679.9,313.3 680.1,315.3 C680.3,317.3 679.7,319.5 678.9,321.2 C678.1,322.9 676.5,324.3 675.4,325.4 C674.3,326.5 673.1,326.7 672.4,327.7 C671.7,328.7 671.4,330.6 671.2,331.2" fill="none" stroke="#ecd096" stroke-width="1.0" stroke-linecap="round"/><path d="M671.2,324.2 C671.0,325.2 670.2,328.3 670.1,330.1 C670.0,331.9 670.2,333.0 670.9,334.8 C671.6,336.6 673.3,338.9 674.2,340.7 C675.1,342.5 675.9,343.8 676.5,345.4 C677.1,347.0 677.7,348.5 677.7,350.1 C677.7,351.7 676.9,353.4 676.5,354.8 C676.1,356.2 675.6,357.8 675.4,358.4" fill="none" stroke="#6e3232" stroke-width="3.6" stroke-linecap="round" stroke-linejoin="round"/><path d="M671.2,324.2 C671.0,325.2 670.2,328.3 670.1,330.1 C670.0,331.9 670.2,333.0 670.9,334.8 C671.6,336.6 673.3,338.9 674.2,340.7 C675.1,342.5 675.9,343.8 676.5,345.4 C677.1,347.0 677.7,348.5 677.7,350.1 C677.7,351.7 676.9,353.4 676.5,354.8 C676.1,356.2 675.6,357.8 675.4,358.4" fill="none" stroke="#ffffff" stroke-width="1.1" stroke-linecap="round"/><path d="M665.0,292.9 L664.2,300.0" fill="none" stroke="#6e3232" stroke-width="3.6" stroke-linecap="round" stroke-linejoin="round"/><path d="M651.8,315.3 C652.4,315.5 654.2,315.7 655.3,316.5 C656.4,317.3 657.4,318.8 658.3,320.1 C659.2,321.4 659.7,323.3 660.6,324.2 C661.5,325.1 662.4,325.7 663.6,325.4 C664.8,325.1 666.5,323.1 667.7,322.4 C668.9,321.7 670.1,321.4 670.6,321.2" fill="none" stroke="#6e3232" stroke-width="3.6" stroke-linecap="round" stroke-linejoin="round"/><path d="M727.9,298.3 C727.8,299.6 727.8,303.6 727.3,306.2 C726.8,308.8 725.3,311.6 725.1,314.0 C724.9,316.4 726.2,318.3 726.2,320.7 C726.2,323.1 725.8,326.3 725.1,328.5 C724.5,330.7 723.3,332.2 722.3,334.1 C721.3,336.0 720.1,337.9 719.0,339.6 C717.9,341.3 716.7,342.8 715.6,344.1 C714.5,345.4 712.8,346.9 712.3,347.5" fill="none" stroke="#6e3232" stroke-width="3.4" stroke-linecap="round" stroke-linejoin="round"/><path d="M727.9,298.3 C727.8,299.6 727.8,303.6 727.3,306.2 C726.8,308.8 725.3,311.6 725.1,314.0 C724.9,316.4 726.2,318.3 726.2,320.7 C726.2,323.1 725.8,326.3 725.1,328.5 C724.5,330.7 723.3,332.2 722.3,334.1 C721.3,336.0 720.1,337.9 719.0,339.6 C717.9,341.3 716.7,342.8 715.6,344.1 C714.5,345.4 712.8,346.9 712.3,347.5" fill="none" stroke="#e8c8c0" stroke-width="0.5" stroke-linecap="round"/><path d="M727.9,298.3 L727.3,306.2" fill="none" stroke="#6e3232" stroke-width="5.2" stroke-linecap="round" stroke-linejoin="round"/><path d="M747.4,306.2 C746.6,306.3 744.2,306.0 742.4,306.7 C740.6,307.4 738.4,309.2 736.8,310.6 C735.2,312.0 733.6,313.8 732.9,315.1 C732.2,316.4 731.8,317.6 732.4,318.4 C733.0,319.2 735.6,320.0 736.8,320.1 C738.0,320.2 739.0,318.4 739.6,319.0 C740.2,319.6 740.9,322.4 740.7,324.0 C740.5,325.6 738.9,327.8 738.5,328.5" fill="none" stroke="#6e3232" stroke-width="4.4" stroke-linecap="round" stroke-linejoin="round"/><path d="M745.0,332.9 C745.5,333.5 747.4,334.6 747.8,336.3 C748.2,338.0 747.1,340.8 747.3,343.0 C747.5,345.2 748.5,347.6 749.0,349.7 C749.5,351.8 750.0,353.2 750.1,355.3 C750.2,357.4 749.7,360.0 749.5,362.0 C749.3,364.0 749.0,365.6 749.0,367.5 C749.0,369.4 749.4,372.2 749.5,373.1" fill="none" stroke="#6e3232" stroke-width="3.2" stroke-linecap="round" stroke-linejoin="round"/><path d="M745.0,332.9 C745.5,333.5 747.4,334.6 747.8,336.3 C748.2,338.0 747.1,340.8 747.3,343.0 C747.5,345.2 748.5,347.6 749.0,349.7 C749.5,351.8 750.0,353.2 750.1,355.3 C750.2,357.4 749.7,360.0 749.5,362.0 C749.3,364.0 749.0,365.6 749.0,367.5 C749.0,369.4 749.4,372.2 749.5,373.1" fill="none" stroke="#e8c8c0" stroke-width="0.5" stroke-linecap="round"/><path d="M764.6,314.5 C763.8,315.1 760.5,316.8 759.6,318.4 C758.7,320.0 759.7,322.5 759.0,324.0 C758.3,325.5 755.9,326.1 755.6,327.4 C755.3,328.7 756.3,330.5 757.3,331.8 C758.3,333.1 760.1,334.3 761.8,335.2 C763.5,336.1 765.9,336.7 767.4,337.4 C768.9,338.1 770.0,338.3 770.7,339.6 C771.4,340.9 771.4,343.3 771.8,345.2 C772.2,347.1 772.4,349.1 772.9,350.8 C773.4,352.5 774.3,354.6 774.6,355.3" fill="none" stroke="#6e3232" stroke-width="3.4" stroke-linecap="round" stroke-linejoin="round"/><path d="M764.6,314.5 C763.8,315.1 760.5,316.8 759.6,318.4 C758.7,320.0 759.7,322.5 759.0,324.0 C758.3,325.5 755.9,326.1 755.6,327.4 C755.3,328.7 756.3,330.5 757.3,331.8 C758.3,333.1 760.1,334.3 761.8,335.2 C763.5,336.1 765.9,336.7 767.4,337.4 C768.9,338.1 770.0,338.3 770.7,339.6 C771.4,340.9 771.4,343.3 771.8,345.2 C772.2,347.1 772.4,349.1 772.9,350.8 C773.4,352.5 774.3,354.6 774.6,355.3" fill="none" stroke="#e8c8c0" stroke-width="0.5" stroke-linecap="round"/><path d="M766.8,329.6 C767.1,330.4 767.9,332.7 768.5,334.1 C769.1,335.5 770.3,337.4 770.7,338.0" fill="none" stroke="#6e3232" stroke-width="3.2" stroke-linecap="round" stroke-linejoin="round"/><path d="M708.9,338.5 L714.5,345.2" fill="none" stroke="#6e3232" stroke-width="2.6" stroke-linecap="round" stroke-linejoin="round"/><path d="M684.8,357.2 C685.2,357.8 686.3,359.3 687.1,360.7 C687.9,362.1 689.1,364.6 689.5,365.4" fill="none" stroke="#6e3232" stroke-width="1.9" stroke-linecap="round" stroke-linejoin="round"/><path d="M691.9,356.0 C692.1,356.8 692.9,358.9 693.0,360.7 C693.1,362.5 692.5,365.6 692.4,366.6" fill="none" stroke="#6e3232" stroke-width="1.9" stroke-linecap="round" stroke-linejoin="round"/><path d="M698.9,339.5 C698.8,340.7 698.3,344.2 698.3,346.6 C698.3,349.0 698.7,351.2 698.9,353.6 C699.1,356.0 699.3,358.3 699.5,360.7 C699.7,363.1 700.0,366.6 700.1,367.8" fill="none" stroke="#6e3232" stroke-width="1.9" stroke-linecap="round" stroke-linejoin="round"/><path d="M695.4,356.0 C695.5,357.2 695.8,361.1 696.0,363.1 C696.2,365.1 696.5,367.0 696.6,367.8" fill="none" stroke="#6e3232" stroke-width="1.9" stroke-linecap="round" stroke-linejoin="round"/><path d="M756.2,355.3 C756.4,356.0 756.8,358.2 757.3,359.7 C757.8,361.2 758.7,363.4 759.0,364.2" fill="none" stroke="#6e3232" stroke-width="1.9" stroke-linecap="round" stroke-linejoin="round"/><path d="M634.7,22.9 C635.6,23.4 637.8,24.8 639.8,26.2 C641.8,27.6 644.8,29.3 646.9,31.1 C649.0,32.9 650.5,34.6 652.5,36.9 C654.5,39.1 656.6,41.8 658.9,44.6 C661.2,47.4 664.2,51.0 666.5,53.5 C668.8,56.0 671.5,57.4 672.9,59.9 C674.3,62.4 674.7,65.6 674.7,68.8 C674.7,72.0 673.6,75.6 672.9,79.0 C672.2,82.4 671.1,85.8 670.4,89.2 C669.7,92.6 668.6,96.0 668.6,99.4 C668.6,102.8 670.1,106.4 670.4,109.6 C670.7,112.8 671.0,115.8 670.4,118.5 C669.8,121.2 667.4,123.8 666.5,126.1 C665.6,128.4 664.9,130.2 665.3,132.5 C665.7,134.8 667.2,137.5 669.1,140.1 C671.0,142.7 674.4,145.2 676.7,147.8 C679.0,150.4 681.6,152.4 683.1,155.4 C684.6,158.4 685.2,162.2 685.6,165.6 C686.0,169.0 685.0,172.4 685.6,175.8 C686.2,179.2 687.6,182.6 689.5,186.0 C691.4,189.4 695.4,193.9 697.1,196.2 C698.8,198.5 699.2,199.4 699.6,200.0" fill="none" stroke="#ffc814" stroke-width="3.4" stroke-linecap="round" stroke-dasharray="1.1 5.8"/><path d="M730.2,127.4 C728.9,127.4 725.2,126.8 722.6,127.4 C720.0,128.0 717.5,129.9 714.9,131.2 C712.3,132.5 709.6,133.5 707.3,135.0 C705.0,136.5 702.8,138.0 700.9,140.1 C699.0,142.2 697.7,145.5 695.8,147.8 C693.9,150.1 691.4,152.4 689.5,154.1 C687.6,155.8 685.2,157.3 684.4,158.0" fill="none" stroke="#ffc814" stroke-width="3.4" stroke-linecap="round" stroke-dasharray="1.1 5.8"/><path d="M593.9,84.1 C593.5,85.1 592.2,88.1 591.4,90.4 C590.5,92.7 589.9,95.8 588.8,98.1 C587.7,100.4 586.2,102.4 584.8,104.3 C583.4,106.2 581.7,108.0 580.3,109.7 C578.9,111.4 578.1,112.8 576.4,114.3 C574.7,115.8 572.5,117.8 570.3,118.9 C568.1,120.0 565.6,120.5 563.4,121.1 C561.2,121.7 559.3,121.7 557.3,122.7 C555.3,123.7 553.1,125.7 551.2,127.3 C549.3,128.9 547.4,130.8 545.9,132.6 C544.4,134.4 542.8,136.1 542.0,138.0 C541.2,139.9 541.0,141.8 541.3,144.1 C541.6,146.4 542.3,149.7 543.6,151.7 C544.9,153.7 547.4,154.5 548.9,156.3 C550.4,158.1 551.9,160.2 552.7,162.4 C553.5,164.6 553.9,167.3 553.5,169.3 C553.1,171.3 551.6,173.2 550.4,174.6 C549.2,176.0 548.2,176.1 546.5,177.7 C544.8,179.3 541.2,181.3 540.1,184.1 C539.0,186.9 539.5,191.3 540.1,194.3 C540.7,197.3 543.5,199.2 543.9,201.9 C544.3,204.7 543.8,208.2 542.7,210.8 C541.7,213.4 539.3,214.9 537.6,217.2 C535.9,219.5 533.8,222.2 532.5,224.8 C531.2,227.4 530.3,229.9 529.9,232.5 C529.5,235.1 530.3,237.8 529.9,240.1 C529.5,242.4 528.7,243.9 527.4,246.5 C526.1,249.1 523.8,252.8 522.3,255.4 C520.8,257.9 519.6,259.7 518.5,261.8 C517.4,263.9 517.0,265.9 515.9,268.2 C514.8,270.5 513.0,273.5 512.1,275.8 C511.2,278.1 511.0,281.1 510.8,282.2" fill="none" stroke="#ffc814" stroke-width="3.4" stroke-linecap="round" stroke-dasharray="1.1 5.8"/><path d="M542.0,141.0 C543.1,141.4 546.7,142.5 548.9,143.3 C551.1,144.1 553.0,144.7 555.0,145.6 C557.0,146.5 558.9,147.7 561.1,148.7 C563.3,149.7 565.7,150.4 568.0,151.7 C570.3,153.0 572.7,154.9 574.9,156.3 C577.1,157.7 579.0,158.8 581.0,160.1 C583.0,161.4 585.2,162.6 587.1,163.9 C589.0,165.2 590.6,166.3 592.5,167.8 C594.4,169.3 596.7,171.4 598.6,173.1 C600.5,174.8 602.4,176.0 603.9,177.7 C605.4,179.4 605.9,181.2 607.9,183.4 C609.9,185.6 613.0,188.6 615.6,191.1 C618.2,193.6 620.8,195.9 623.2,198.7 C625.7,201.4 627.8,205.3 630.3,207.6 C632.8,209.9 635.0,211.6 638.0,212.7 C641.0,213.8 644.8,214.2 648.2,214.0 C651.6,213.8 654.9,212.6 658.3,211.5 C661.7,210.4 664.9,208.9 668.5,207.6 C672.1,206.3 676.5,204.9 680.0,203.8 C683.5,202.7 685.7,201.8 689.3,201.2 C692.9,200.6 699.6,200.2 701.7,200.0" fill="none" stroke="#ffc814" stroke-width="3.4" stroke-linecap="round" stroke-dasharray="1.1 5.8"/><path d="M700.4,205.0 C699.8,206.7 698.4,211.8 696.7,214.9 C695.1,218.0 692.4,220.7 690.5,223.6 C688.6,226.5 686.6,229.5 685.6,232.2 C684.6,234.9 684.3,237.2 684.3,239.7 C684.3,242.2 686.0,244.8 685.6,247.1 C685.2,249.4 684.1,251.7 681.8,253.3 C679.5,255.0 675.2,256.0 671.9,257.0 C668.6,258.0 664.7,258.1 662.0,259.5 C659.3,260.9 657.7,263.2 655.8,265.7 C653.9,268.2 652.0,271.3 650.8,274.4 C649.6,277.5 649.0,281.0 648.4,284.3 C647.8,287.6 647.7,290.9 647.1,294.2 C646.5,297.5 645.6,300.7 644.6,304.2 C643.6,307.7 642.5,311.6 640.9,315.3 C639.2,319.0 637.4,322.6 634.7,326.5 C632.0,330.4 628.1,335.6 624.8,338.9 C621.5,342.2 618.2,344.4 614.9,346.3 C611.6,348.2 607.5,348.5 605.0,350.0 C602.5,351.5 601.9,353.9 599.7,355.4 C597.6,356.9 594.6,358.1 592.1,359.2 C589.6,360.3 585.8,361.4 584.5,361.8" fill="none" stroke="#ffc814" stroke-width="3.4" stroke-linecap="round" stroke-dasharray="1.1 5.8"/><path d="M776.1,262.0 C774.5,262.2 769.5,262.6 766.2,263.2 C762.9,263.8 759.5,264.7 756.2,265.7 C752.9,266.7 749.6,267.9 746.3,269.4 C743.0,270.8 739.3,272.3 736.4,274.4 C733.5,276.5 731.1,279.3 729.0,281.8 C726.9,284.3 725.7,286.6 724.0,289.3 C722.3,292.0 721.1,295.5 719.0,298.0 C716.9,300.5 714.5,302.3 711.6,304.2 C708.7,306.1 705.0,307.7 701.7,309.1 C698.4,310.5 695.1,311.6 691.8,312.8 C688.5,314.1 683.5,316.0 681.8,316.6" fill="none" stroke="#ffc814" stroke-width="3.4" stroke-linecap="round" stroke-dasharray="1.1 5.8"/><path d="M778.6,299.2 C776.9,299.6 771.9,300.9 768.6,301.7 C765.3,302.5 762.0,303.4 758.7,304.2 C755.4,305.0 751.9,305.4 748.8,306.6 C745.7,307.8 742.4,309.9 740.1,311.6 C737.8,313.3 737.1,315.0 735.2,316.6 C733.4,318.2 731.3,319.9 729.0,321.5 C726.7,323.1 724.0,324.9 721.5,326.5 C719.0,328.1 716.2,329.5 714.1,331.4 C712.0,333.2 710.6,335.1 709.1,337.6 C707.6,340.1 706.2,343.2 705.4,346.3 C704.6,349.4 704.6,352.5 704.2,356.2 C703.8,359.9 703.3,364.9 702.9,368.6 C702.5,372.3 701.9,376.9 701.7,378.6" fill="none" stroke="#ffc814" stroke-width="3.4" stroke-linecap="round" stroke-dasharray="1.1 5.8"/><path d="M621.4,375.8 C622.9,374.9 627.3,372.4 630.3,370.7 C633.3,369.0 636.4,367.3 639.2,365.6 C642.0,363.9 644.6,362.4 646.9,360.5 C649.2,358.6 651.3,356.4 653.2,354.1 C655.1,351.8 656.8,349.0 658.3,346.5 C659.8,344.0 660.9,341.7 662.2,338.9 C663.5,336.1 665.4,331.4 666.0,329.9" fill="none" stroke="#ffc814" stroke-width="3.4" stroke-linecap="round" stroke-dasharray="1.1 5.8"/><text x="494.5" y="190.4" font-weight="bold" font-size="10.6" textLength="3.6" lengthAdjust="spacingAndGlyphs" fill="#000" stroke="#000" stroke-width="0.3">I</text><text x="621.4" y="130.4" font-weight="bold" font-size="10.6" textLength="7.3" lengthAdjust="spacingAndGlyphs" fill="#000" stroke="#000" stroke-width="0.3">II</text><text x="587.5" y="250.4" font-weight="bold" font-size="10.6" textLength="10.8" lengthAdjust="spacingAndGlyphs" fill="#000" stroke="#000" stroke-width="0.3">III</text><text x="688.9" y="109.5" font-weight="bold" font-size="10.6" textLength="12.2" lengthAdjust="spacingAndGlyphs" fill="#000" stroke="#000" stroke-width="0.3">IV</text><text x="716.5" y="246.5" font-weight="bold" font-size="10.6" textLength="8.6" lengthAdjust="spacingAndGlyphs" fill="#000" stroke="#000" stroke-width="0.3">V</text><text x="708.8" y="320.4" font-weight="bold" font-size="10.6" textLength="12.2" lengthAdjust="spacingAndGlyphs" fill="#000" stroke="#000" stroke-width="0.3">VI</text><text x="750.1" y="348.5" font-weight="bold" font-size="10.6" textLength="15.8" lengthAdjust="spacingAndGlyphs" fill="#000" stroke="#000" stroke-width="0.3">VII</text><text x="632.0" y="344.5" font-weight="bold" font-size="10.6" textLength="19.4" lengthAdjust="spacingAndGlyphs" fill="#000" stroke="#000" stroke-width="0.3">VIII</text></g><g transform="translate(-404.3,410.7)"><g clip-path="url(#clipLand)"><g filter="url(#fb)"><rect x="300" y="-100" width="600" height="600" fill="#000000"/><path d="M380.0,280.0 L520.0,250.0 L560.0,190.0 L610.0,130.0 L660.0,90.0 L700.0,60.0 L730.0,40.0 L800.0,0.0 L800.0,420.0 L380.0,420.0Z" fill="#2e2e2e"/><path d="M545.0,420.0 L555.0,290.0 L580.0,230.0 L605.0,180.0 L650.0,135.0 L700.0,100.0 L740.0,70.0 L800.0,50.0 L800.0,420.0Z" fill="#616161"/><path d="M590.0,420.0 L592.0,300.0 L605.0,240.0 L625.0,185.0 L640.0,165.0 L680.0,160.0 L720.0,125.0 L745.0,100.0 L800.0,90.0 L800.0,420.0Z" fill="#9e9e9e"/><path d="M640.0,420.0 L650.0,330.0 L640.0,290.0 L650.0,250.0 L640.0,215.0 L630.0,195.0 L640.0,180.0 L660.0,180.0 L690.0,200.0 L720.0,195.0 L750.0,180.0 L800.0,175.0 L800.0,420.0Z" fill="#e0e0e0"/><path d="M660.0,420.0 L672.0,335.0 L690.0,270.0 L720.0,235.0 L760.0,220.0 L800.0,210.0 L800.0,420.0Z" fill="#ffffff"/></g></g><g clip-path="url(#clipLand)"><g clip-path="url(#clipHatch)"><rect x="380" y="80" width="220" height="300" fill="url(#hatchB)"/></g></g><path d="M642.7,39.5 L644.5,40.0 L646.2,41.1 L647.8,42.0 L648.9,43.6 L649.6,45.3 L650.3,47.1 L650.9,48.8 L651.4,50.6 L652.2,52.2 L651.9,54.2 L651.0,56.1 L650.8,58.6 L650.3,61.1 L652.2,62.8 L653.5,65.0 L654.8,67.1 L656.7,68.8 L657.2,71.0 L657.3,73.2 L656.0,74.6 L655.4,76.4 L654.1,78.3 L652.2,79.6 L650.1,80.5 L647.8,80.3 L646.3,82.3 L644.6,84.1 L644.3,86.7 L643.9,89.2 L643.2,90.8 L642.7,92.5 L642.7,94.3 L641.4,96.5 L640.1,98.7 L640.2,100.3 L639.8,101.9 L639.6,104.5 L639.8,107.0 L640.1,109.5 L639.8,112.1 L641.2,113.6 L642.8,115.0 L643.4,117.0 L644.9,118.5 L647.1,118.4 L649.2,119.0 L651.2,119.7 L650.4,121.6 L649.8,123.5 L649.2,125.4 L648.7,127.4 L647.9,129.3 L647.1,131.1 L646.3,132.9 L646.1,135.0 L646.1,137.2 L647.3,139.0 L647.8,141.1 L648.6,143.1 L648.7,145.2 L647.8,147.2 L647.1,149.2 L645.4,150.8 L644.9,152.9 L643.1,152.0 L641.0,151.9 L639.2,150.8 L637.2,150.3 L635.1,149.1 L632.6,148.8 L630.7,147.1 L628.3,146.5 L626.3,145.7 L624.2,145.5 L622.3,144.5 L620.0,144.9 L618.1,143.9 L616.6,145.0 L614.7,144.8 L613.1,145.6 L611.1,145.4 L609.0,146.1 L607.0,145.6 L605.0,145.2 L602.9,145.0 L600.9,144.8 L598.6,144.6 L596.3,144.1 L594.5,143.4 L593.4,141.7 L591.7,141.0 L591.4,138.6 L590.2,136.4 L588.7,135.3 L587.0,134.7 L585.6,133.4 L583.6,132.6 L581.6,131.7 L579.5,131.1 L577.5,130.3 L575.6,129.3 L573.4,128.8 L571.3,128.8 L569.4,127.8 L567.3,128.0 L565.3,127.0 L563.0,126.8 L561.1,125.7 L559.3,125.1 L558.3,123.4 L556.6,122.7" fill="none" stroke="#c6bebe" stroke-width="1.2" stroke-linejoin="round"/><path d="M651.2,119.7 L653.8,119.3 L656.3,119.9 L658.9,119.7 L659.4,121.6 L659.9,123.5 L659.9,125.5 L660.2,127.4 L661.5,129.1 L662.8,130.8 L664.0,132.5 L666.5,132.9 L669.1,133.1 L671.6,133.8 L673.0,132.0 L674.9,130.7 L676.3,128.9 L678.0,127.4 L680.0,126.6 L681.9,125.8 L683.9,124.9 L685.6,123.6 L687.9,123.8 L690.1,122.7 L692.3,122.3 L694.6,122.3 L696.6,121.9 L698.4,121.1 L700.2,120.0 L702.2,119.7 L704.0,118.1 L705.9,116.6 L707.3,114.6 L709.2,114.1 L710.6,112.7 L712.4,112.1 L710.5,110.6 L708.6,109.1 L707.3,107.0 L709.4,105.7 L710.5,103.4 L712.4,101.9 L714.2,100.8 L715.8,99.4 L717.5,98.1 L719.6,98.6 L721.8,99.0 L723.9,99.4 L725.5,97.9 L726.5,96.1 L727.7,94.3 L729.3,93.2 L730.9,92.2 L732.8,91.7 L734.3,90.0 L736.2,88.6 L737.4,86.6" fill="none" stroke="#c6bebe" stroke-width="1.2" stroke-linejoin="round"/><path d="M671.6,133.8 L671.6,136.0 L672.3,138.0 L672.9,140.1 L674.5,141.2 L676.1,142.2 L678.0,142.7 L679.8,143.8 L681.1,145.4 L682.5,146.9 L684.4,147.8 L685.8,149.8 L687.7,151.3 L689.5,152.9 L691.0,151.7 L692.9,151.1 L694.6,150.3 L693.7,152.1 L694.4,154.2 L693.8,156.1 L693.3,158.0 L693.5,160.1 L694.6,161.8 L695.5,163.6 L695.8,165.6 L695.7,168.2 L694.8,170.6 L695.1,173.3 L694.6,175.8 L695.3,177.7 L695.7,179.6 L696.2,181.6 L697.1,183.4 L698.8,185.1 L700.8,186.5 L702.2,188.5 L703.8,190.3 L706.0,191.5 L707.3,193.6 L706.8,195.9 L705.9,198.0 L704.7,200.0 L706.9,200.2 L709.1,200.0 L708.7,202.5 L707.6,204.9 L707.6,207.5 L706.6,209.9 L705.7,212.0 L704.6,213.9 L702.7,215.4 L701.7,217.4 L700.7,219.1 L700.7,221.2 L700.1,223.0 L699.2,224.8 L699.1,227.4 L697.8,229.7 L697.5,232.3 L696.7,234.7 L696.5,237.3 L695.3,239.6 L694.7,242.1 L694.2,244.6 L694.6,246.8 L695.2,248.9 L695.0,251.1 L695.5,253.3" fill="none" stroke="#c6bebe" stroke-width="1.2" stroke-linejoin="round"/><path d="M674.2,197.5 L676.7,197.0 L679.2,196.5 L681.8,196.6 L684.3,196.1 L686.9,196.2 L689.4,195.4 L692.0,195.4 L694.6,195.7 L697.1,194.9 L699.3,194.2 L701.3,193.1 L703.1,191.6 L705.3,190.9 L707.3,189.8" fill="none" stroke="#c6bebe" stroke-width="1.2" stroke-linejoin="round"/><path d="M522.9,131.8 L524.7,133.1 L525.8,135.0 L527.4,136.5 L529.1,137.9 L530.6,139.5 L532.0,141.2 L532.9,143.3 L531.5,144.2 L530.6,145.6 L530.0,147.6 L530.1,149.7 L529.8,151.7 L530.1,153.7 L530.6,155.7 L530.6,157.8 L529.4,159.3 L527.6,160.0 L526.0,160.9 L524.4,162.3 L522.9,163.9 L524.4,165.2 L525.2,167.0 L524.5,169.3 L524.5,171.6 L523.1,172.8 L521.6,173.8 L519.9,174.6 L519.8,176.5 L518.3,178.0 L518.3,180.0 L517.3,182.1 L516.3,184.3 L515.9,186.6 L514.8,188.5 L514.5,190.7 L513.2,192.5 L512.1,194.3 L512.5,196.8 L513.4,199.3 L513.4,201.9 L512.2,203.8 L512.0,206.0 L511.5,208.2 L510.0,209.9 L509.6,212.1 L510.4,214.6 L509.9,217.2 L510.8,219.7 L509.9,221.6 L508.8,223.5 L508.1,225.6 L507.0,227.4 L505.7,229.3 L504.7,231.4 L503.6,233.4 L501.9,235.0 L500.0,236.0 L498.7,237.8 L496.8,238.9 L495.7,240.9 L495.4,243.2 L494.3,245.2" fill="none" stroke="#c6bebe" stroke-width="1.2" stroke-linejoin="round"/><path d="M498.1,236.3 L500.3,237.2 L502.6,238.1 L504.9,238.8 L507.0,240.1 L508.8,241.1 L511.0,240.9 L512.7,242.1 L514.6,242.7 L516.5,244.3 L519.1,244.8 L521.0,246.5 L523.1,247.8 L525.2,249.1 L527.4,250.3 L529.5,250.8 L531.3,252.1 L533.0,253.4 L535.0,254.1 L536.9,253.4 L538.9,252.9 L540.1,251.1 L540.5,248.9 L541.5,247.0 L542.7,245.2 L544.6,244.3 L546.8,244.2 L548.9,244.2 L550.9,243.3 L552.9,242.7" fill="none" stroke="#c6bebe" stroke-width="1.2" stroke-linejoin="round"/><path d="M565.7,150.2 L567.6,151.4 L569.6,152.4 L571.4,153.7 L573.4,154.8 L575.6,156.1 L577.3,158.1 L579.5,159.4 L581.2,160.8 L583.2,161.8 L585.4,162.5 L587.1,163.9 L589.1,165.5 L591.3,166.8 L593.2,168.5 L595.4,169.8 L597.0,172.0 L599.4,173.1 L601.1,175.1 L603.8,175.8 L605.5,177.7 L605.9,179.8 L607.0,181.5 L607.9,183.4 L609.5,184.8 L611.1,186.3 L612.4,188.2 L614.1,189.5 L615.6,191.1 L617.0,192.8 L618.5,194.3 L620.4,195.4 L621.5,197.4 L623.2,198.7" fill="none" stroke="#c6bebe" stroke-width="1.2" stroke-linejoin="round"/><path d="M552.9,242.7 L552.0,240.8 L552.1,238.6 L551.5,236.5 L551.3,234.4 L550.3,232.5 L550.9,230.7 L551.8,229.0 L552.9,227.4 L555.0,227.1 L557.0,226.5 L559.0,225.6 L561.1,225.5 L563.1,224.8 L565.1,223.9 L567.2,223.6 L569.0,222.1 L571.1,221.5 L573.2,221.0 L575.3,220.9 L577.2,219.8 L579.3,219.2 L581.4,219.3 L583.4,218.5 L585.4,219.4 L587.6,219.7 L589.5,220.8 L591.5,221.7 L593.6,222.3 L595.9,222.8 L597.9,224.1 L600.3,224.3 L602.3,225.5 L604.0,224.9 L605.6,224.2 L607.4,224.2 L609.2,223.0 L611.4,222.8 L613.1,221.3 L615.0,220.4 L616.0,218.4 L615.8,216.1 L616.3,214.0 L618.5,213.3 L620.7,212.7 L622.7,211.5 L624.1,209.5 L624.9,207.0 L626.5,205.1 L627.0,203.4 L627.5,201.7 L627.8,200.0" fill="none" stroke="#c6bebe" stroke-width="1.2" stroke-linejoin="round"/><path d="M599.7,224.2 L601.5,225.7 L603.7,226.5 L605.7,227.8 L607.4,229.3 L609.3,230.3 L611.4,230.8 L613.0,232.4 L615.0,233.1 L616.8,234.6 L619.1,235.2 L620.7,237.1 L622.7,238.2 L623.6,240.1 L624.5,242.1 L625.1,244.2 L626.5,245.9 L627.0,248.0 L628.5,249.7 L629.0,251.8 L630.3,253.5 L631.3,255.3 L632.4,257.0 L634.5,258.0 L635.4,259.9 L636.3,261.5 L638.1,262.2 L639.2,263.7 L640.0,265.3 L640.0,267.1 L640.5,268.8 L637.9,268.9 L635.3,269.2 L632.9,270.1 L630.4,270.5 L627.8,270.3 L625.3,271.5 L622.7,271.3 L620.7,272.2 L619.4,274.1 L617.6,275.2 L617.1,277.3 L617.1,279.5 L616.3,281.5 L617.6,283.4 L618.5,285.6 L618.9,287.9 L620.1,289.2 L621.4,290.5 L622.7,291.7 L622.0,293.6 L621.7,295.5 L621.8,297.5 L621.4,299.4 L621.5,302.0 L622.6,304.4 L622.7,307.0 L621.4,309.0 L621.2,311.4 L620.1,313.4 L618.0,313.6 L616.3,314.8 L614.4,315.4 L612.5,315.9 L609.9,315.9 L607.4,316.4 L604.8,315.9 L603.1,317.0 L601.0,317.2 L599.0,317.6 L597.2,318.5 L597.3,321.1 L596.4,323.6 L595.9,326.1 L596.9,328.2 L597.3,330.5 L598.5,332.5 L597.0,334.2 L597.0,336.5 L595.5,338.2 L594.6,340.1 L594.4,342.2 L593.1,343.9 L592.3,345.7 L592.1,347.8 L592.3,349.6 L592.9,351.2 L593.4,352.9" fill="none" stroke="#c6bebe" stroke-width="1.2" stroke-linejoin="round"/><path d="M639.2,263.7 L640.3,261.9 L641.4,260.0 L642.1,258.0 L643.1,256.1 L644.8,254.4 L646.4,252.6 L648.2,251.0 L649.1,248.5 L648.8,245.8 L649.4,243.3 L650.4,241.4 L651.7,239.7 L653.2,238.2 L654.3,240.2 L655.1,242.4 L655.8,244.6 L656.9,246.2 L657.9,247.8 L658.3,249.7 L660.8,249.2 L663.4,248.8 L666.0,248.8 L668.5,248.4 L670.8,248.3 L673.2,248.5 L675.4,248.9 L677.7,249.5 L680.0,249.7 L682.2,250.1 L684.3,250.8 L686.5,251.6 L688.7,252.1 L691.0,252.2 L693.4,252.4 L695.5,253.3 L696.5,255.5 L697.7,257.6 L699.2,259.5 L697.6,260.8 L695.8,261.8 L694.2,263.2 L691.8,263.9 L689.2,263.6 L686.8,264.5 L684.9,265.4 L683.3,266.7 L681.8,268.2 L679.7,268.7 L678.2,270.3 L676.2,270.9 L674.4,271.9 L672.6,273.4 L670.8,275.0 L669.4,276.9 L668.9,279.4 L668.6,281.9 L667.5,284.3 L667.0,286.8 L667.1,289.3 L666.1,291.7 L666.6,294.3 L665.7,296.7" fill="none" stroke="#c6bebe" stroke-width="1.2" stroke-linejoin="round"/><path d="M701.7,218.6 L704.2,218.9 L706.5,220.3 L709.2,220.1 L711.6,221.1 L713.4,221.9 L715.4,221.9 L717.2,222.7 L719.0,223.6 L721.4,224.7 L724.1,224.5 L726.5,225.6 L729.0,226.0 L729.4,223.8 L729.9,221.5 L730.4,219.3 L730.6,217.0 L731.4,214.9 L732.2,212.5 L731.8,209.9 L732.4,207.4 L732.5,204.9 L733.2,202.4 L733.9,200.0 L735.3,200.0 L735.2,197.7 L735.7,195.4 L735.2,193.1 L734.9,190.8 L735.3,188.5" fill="none" stroke="#c6bebe" stroke-width="1.2" stroke-linejoin="round"/><path d="M699.2,259.5 L701.7,259.9 L704.1,260.4 L706.6,260.8 L709.2,260.8 L711.6,259.9 L714.1,259.5 L715.7,258.3 L717.4,257.1 L719.0,255.8 L720.9,257.2 L722.3,259.1 L724.0,260.8 L725.6,262.5 L727.1,264.3 L729.0,265.7 L731.6,265.9 L734.0,266.7 L736.5,267.1 L738.9,268.2 L741.3,268.9 L743.8,269.2 L746.3,269.4 L747.4,271.1 L747.0,273.3 L747.7,275.2 L748.8,276.9 L750.7,275.8 L752.5,274.4 L752.0,271.9 L751.3,269.4" fill="none" stroke="#c6bebe" stroke-width="1.2" stroke-linejoin="round"/><path d="M522.9,131.1 C523.7,131.7 526.1,133.8 527.5,134.9 C528.9,136.1 530.4,136.7 531.3,138.0 C532.2,139.3 532.2,141.2 532.9,142.5 C533.5,143.8 534.4,145.5 535.2,145.6 C536.0,145.7 536.6,143.8 537.5,143.3 C538.4,142.8 539.1,142.5 540.5,142.5 C541.9,142.5 544.0,142.9 545.9,143.3 C547.8,143.7 550.2,144.2 552.0,144.8 C553.8,145.4 555.1,146.3 556.6,147.1 C558.1,147.9 559.7,148.6 561.1,149.4 C562.5,150.2 564.1,150.5 565.0,151.7 C565.9,152.8 566.5,154.8 566.5,156.3 C566.5,157.8 565.6,159.6 565.0,160.9 C564.4,162.2 563.0,162.6 562.7,163.9 C562.4,165.2 563.0,167.0 563.4,168.5 C563.8,170.0 565.1,171.8 565.0,173.1 C564.9,174.4 563.9,175.6 562.7,176.2 C561.6,176.8 559.6,176.9 558.1,176.9 C556.6,176.9 554.8,176.7 553.5,176.2 C552.2,175.7 551.4,174.8 550.4,173.9 C549.4,173.0 548.5,171.4 547.4,170.8 C546.3,170.2 544.5,169.6 543.6,170.1 C542.7,170.6 542.9,172.6 542.0,173.9 C541.1,175.2 539.5,176.7 538.2,177.7 C536.9,178.7 535.1,178.5 534.4,180.0 C533.7,181.5 533.3,184.7 533.8,186.6 C534.3,188.5 536.3,190.0 537.6,191.7 C538.9,193.4 540.5,194.7 541.4,196.8 C542.2,198.9 542.9,201.9 542.7,204.5 C542.5,207.1 541.2,209.8 540.1,212.1 C539.0,214.4 537.6,216.8 536.3,218.5 C535.0,220.2 534.0,220.8 532.5,222.3 C531.0,223.8 528.7,225.5 527.4,227.4 C526.1,229.3 525.4,231.5 524.8,233.8 C524.2,236.1 523.6,238.9 523.6,241.4 C523.6,243.9 523.3,247.1 524.8,249.0 C526.3,250.9 530.0,252.7 532.5,252.9 C535.0,253.1 538.0,251.8 540.1,250.3 C542.2,248.8 543.1,245.2 545.2,243.9 C547.3,242.6 551.5,241.7 552.9,242.7 C554.3,243.7 553.9,247.0 553.9,249.7 C553.9,252.3 552.6,255.4 552.6,258.6 C552.6,261.8 553.0,265.6 553.9,268.8 C554.8,272.0 556.9,274.7 557.7,277.7 C558.6,280.7 559.0,283.6 559.0,286.6 C559.0,289.6 557.7,292.5 557.7,295.5 C557.7,298.5 558.4,301.5 559.0,304.5 C559.6,307.5 561.3,310.4 561.5,313.4 C561.7,316.4 560.9,319.6 560.3,322.3 C559.7,325.1 558.6,327.1 557.7,329.9 C556.9,332.7 555.6,337.4 555.2,338.9" fill="none" stroke="#ffd9b3" stroke-width="1.8" stroke-linejoin="round"/><path d="M659.4,30.5 C659.4,29.1 663.8,29.2 665.9,29.2 C668.0,29.2 670.8,29.3 672.3,30.5 C673.8,31.7 674.6,34.5 674.7,36.6 C674.9,38.7 673.8,41.5 673.2,42.9 C672.7,44.3 672.6,46.1 671.4,45.3 C670.2,44.5 667.9,40.4 665.9,37.9 C663.9,35.4 659.4,31.9 659.4,30.5Z" fill="#ee1c1c" stroke="#2255dd" stroke-width="1.8" stroke-linejoin="round"/><path d="M649.2,0.9 C649.1,2.0 648.8,5.7 648.3,7.4 C647.8,9.1 646.5,9.6 646.5,11.1 C646.5,12.6 647.5,14.8 648.3,16.6 C649.1,18.5 650.0,20.4 651.1,22.2 C652.2,24.0 653.4,26.3 654.8,27.7 C656.2,29.1 658.6,30.0 659.4,30.5" fill="none" stroke="#2255dd" stroke-width="1.5" stroke-linecap="round"/><path d="M648.3,16.6 C648.8,17.5 650.0,20.4 651.1,22.2 C652.2,24.0 653.4,26.3 654.8,27.7 C656.2,29.1 658.6,30.0 659.4,30.5" fill="none" stroke="#2255dd" stroke-width="2.6" stroke-linecap="round"/><path d="M671.4,44.3 C672.8,45.5 677.7,50.6 679.7,51.4 C681.7,52.2 682.0,49.1 683.4,48.9 C684.8,48.6 686.7,49.0 688.4,49.9 C690.1,50.8 692.0,53.0 693.6,54.5 C695.2,56.0 696.4,58.0 698.2,58.7 C700.0,59.4 702.5,58.2 704.6,58.7 C706.8,59.2 709.2,60.9 711.1,61.9 C713.0,62.9 715.3,64.5 716.1,65.0" fill="none" stroke="#2255dd" stroke-width="2.4" stroke-linecap="round"/><path d="M716.1,65.6 C716.6,65.1 718.9,66.5 721.3,66.9 C723.7,67.3 728.0,67.5 730.5,68.0 C733.0,68.5 735.0,69.0 736.1,69.8 C737.2,70.6 737.6,72.4 737.0,73.0 C736.4,73.6 734.4,73.7 732.4,73.5 C730.4,73.3 727.3,72.6 725.0,72.0 C722.7,71.4 720.0,70.9 718.5,69.8 C717.0,68.7 715.6,66.1 716.1,65.6Z" fill="#2255dd"/><path d="M737.0,72.4 C736.9,73.6 738.0,77.0 738.8,79.4 C739.6,81.8 740.5,84.0 741.6,86.8 C742.7,89.6 744.0,93.4 745.3,96.1 C746.6,98.8 747.9,101.2 749.4,102.9 C750.9,104.7 752.7,106.1 754.5,106.6 C756.3,107.1 758.4,106.2 760.4,105.7 C762.4,105.2 765.2,106.0 766.2,103.8 C767.2,101.6 767.3,94.6 766.3,92.4 C765.3,90.2 762.3,91.1 760.4,90.5 C758.5,89.9 756.7,89.6 754.9,88.7 C753.1,87.8 751.2,86.8 749.4,85.0 C747.5,83.2 745.4,79.7 743.8,77.6 C742.2,75.5 740.8,73.3 739.7,72.4 C738.6,71.5 737.1,71.2 737.0,72.4Z" fill="#2255dd"/><path d="M685.8,51.4 C685.8,50.6 687.3,50.2 688.4,50.8 C689.5,51.4 691.4,53.6 692.6,55.0 C693.8,56.4 695.4,58.5 695.4,59.1 C695.4,59.7 693.8,59.3 692.6,58.7 C691.4,58.1 689.5,56.6 688.4,55.4 C687.3,54.2 685.8,52.2 685.8,51.4Z" fill="#ececec"/><path d="M697.3,61.9 C697.9,61.0 701.4,60.5 703.7,60.6 C706.0,60.8 709.5,62.1 711.1,62.8 C712.7,63.5 714.3,64.4 713.5,65.0 C712.7,65.6 708.8,66.3 706.5,66.5 C704.2,66.7 701.5,66.7 700.0,65.9 C698.5,65.1 696.7,62.8 697.3,61.9Z" fill="#ececec"/><path d="M746.2,86.8 C747.1,87.0 748.8,91.0 750.8,92.4 C752.8,93.8 756.2,94.6 758.2,95.1 C760.2,95.5 762.6,94.3 763.0,95.1 C763.4,95.9 762.0,98.9 760.4,99.7 C758.8,100.5 755.6,100.6 753.6,100.1 C751.6,99.5 749.6,97.9 748.2,96.4 C746.9,94.9 745.8,92.5 745.5,90.9 C745.2,89.3 745.3,86.5 746.2,86.8Z" fill="#ececec"/><use href="#land" fill="none" stroke="#6e3232" stroke-width="2.4" stroke-linejoin="round"/><path d="M630.0,359.2 L631.7,358.1 L633.6,357.4 L635.3,356.4 L637.1,355.6 L638.7,354.1 L640.2,352.5 L641.3,350.6 L642.8,348.9 L644.7,347.7 L646.5,346.4 L647.7,344.4 L649.4,343.0 L650.4,341.4 L652.1,340.4 L652.9,338.6 L654.1,337.1 L655.6,335.3 L656.5,333.2 L657.7,331.2 L658.7,329.8 L659.4,328.3 L660.5,330.6 L660.9,333.1 L661.8,335.4 L663.5,336.2 L665.3,336.2 L666.7,335.0 L668.0,333.8 L667.9,335.5 L668.3,337.1 L667.4,339.1 L667.2,341.4 L665.8,343.2 L665.3,345.4 L664.5,347.4 L664.0,349.6 L663.6,351.7 L662.4,353.6 L661.4,355.6 L661.2,357.8 L660.4,359.8 L660.0,361.9 L659.6,364.2 L660.0,366.6 L661.7,367.7 L663.6,368.4 L665.6,368.6 L667.5,367.9 L669.5,367.8 L671.4,366.8 L673.0,365.4 L673.4,363.6 L674.4,362.0 L674.4,360.1 L675.4,358.4 L676.3,359.8 L677.7,360.7 L679.2,361.6 L680.1,363.1 L679.2,365.1 L677.7,366.6 L676.5,368.5 L674.8,370.1 L674.0,371.8 L674.2,373.7 L675.4,374.2 L676.5,374.8 L677.8,373.1 L678.9,371.3 L680.0,370.5 L681.2,370.1 L682.4,371.3 L683.6,372.5 L685.1,373.0 L686.5,373.7 L687.9,371.8 L689.5,370.1 L690.8,368.4 L691.9,366.6 L693.7,366.1 L695.4,365.4 L696.3,366.9 L697.7,367.8 L698.8,369.4 L700.1,370.7 L701.0,372.0 L702.5,372.7 L704.2,373.3 L706.0,373.1 L706.9,371.3 L707.1,369.3 L707.0,367.2 L707.8,365.4 L708.1,363.0 L708.1,360.7 L707.9,358.3 L707.4,356.0 L707.6,353.7 L707.9,351.3 L707.5,348.9 L707.9,346.6 L708.4,344.6 L708.3,342.5 L708.2,340.4 L708.6,338.3 L710.3,340.1 L711.2,342.4 L711.6,344.2 L712.2,346.0 L713.4,347.5 L713.6,349.4 L712.7,351.1 L712.8,353.0 L713.3,355.2 L713.9,357.4 L714.0,359.7 L714.0,362.0 L713.3,364.1 L713.4,366.4 L712.3,368.1 L712.4,370.3 L711.2,372.0 L710.2,373.6 L709.5,375.4 L711.1,375.8 L712.3,377.0 L714.0,376.4 L715.6,375.4 L716.0,373.1 L716.7,370.9 L717.9,369.4 L718.4,367.5 L720.4,366.2 L721.8,364.2 L722.3,364.2 L722.9,362.0 L723.9,359.9 L724.0,357.5 L724.4,355.6 L724.7,353.6 L725.7,351.9 L726.3,349.7 L726.3,347.3 L727.3,345.2 L727.8,343.2 L728.7,341.4 L729.6,339.6 L730.6,337.8 L731.2,335.8 L732.4,334.1 L733.1,332.2 L734.9,331.0 L735.5,329.0 L736.8,327.4 L737.4,328.5 L736.4,330.6 L735.9,332.9 L735.7,335.2 L735.1,337.5 L734.3,339.7 L733.5,341.9 L733.3,344.1 L733.0,346.4 L732.9,348.6 L733.0,350.8 L733.1,353.1 L733.2,355.3 L733.5,357.5 L733.2,359.7 L733.7,362.0 L733.9,364.2 L734.0,366.4 L734.0,368.7 L734.7,370.8 L734.6,373.1 L736.5,372.9 L738.3,373.1 L740.0,373.6 L741.7,373.1 L743.2,373.9 L744.7,374.7 L746.2,375.4 L748.2,375.8 L749.9,376.9 L751.7,377.8 L753.7,377.5 L755.6,377.0 L755.5,375.0 L756.4,373.1 L757.4,371.3 L758.3,369.4 L759.0,367.5 L760.6,368.0 L761.8,369.2 L764.0,370.2 L766.2,370.9 L767.9,370.0 L769.6,369.2 L771.9,368.5 L774.1,367.5 L775.1,365.8 L776.3,364.2 L776.0,361.9 L775.2,359.7 L774.6,357.4 L773.5,355.3 L773.6,352.9 L774.6,350.8 L776.3,352.2 L777.4,354.2 L779.0,355.7 L780.8,356.9 L782.7,356.5 L784.1,355.3 L783.3,353.7 L783.0,351.9 L781.5,350.8 L780.1,349.6 L778.5,348.6 L777.5,346.4 L776.9,344.1 L776.6,341.9 L776.3,339.7 L776.3,337.4 L774.5,336.4 L772.9,335.2 L774.4,333.6 L775.7,331.8 L775.8,329.6 L776.3,327.4 L775.5,326.0 L775.1,324.3 L774.1,322.9 L772.9,321.6 L772.6,319.9 L771.8,318.4 L772.8,316.7 L773.2,314.7 L774.1,312.9 L775.0,311.2 L776.5,310.1 L777.4,308.4 L775.6,306.9 L774.1,305.0 L773.0,303.3 L772.5,301.4 L771.8,299.5 L770.5,297.9 L768.6,296.8 L767.4,295.0" fill="none" stroke="#6e3232" stroke-width="3.0" stroke-linejoin="round" stroke-linecap="round"/><path d="M643.6,276.4 C644.2,277.0 646.3,278.4 647.1,280.0 C647.9,281.6 648.2,284.0 648.5,285.7 C648.8,287.4 648.4,288.5 648.8,290.0 C649.1,291.5 649.7,292.9 650.6,294.7 C651.5,296.5 652.5,299.2 654.1,300.6 C655.7,302.0 657.8,302.6 660.0,303.0 C662.2,303.4 664.9,302.7 667.1,303.0 C669.3,303.3 671.2,303.6 673.0,304.7 C674.8,305.8 676.5,307.6 677.7,309.4 C678.9,311.2 679.9,313.3 680.1,315.3 C680.3,317.3 679.7,319.5 678.9,321.2 C678.1,322.9 676.5,324.3 675.4,325.4 C674.3,326.5 673.1,326.7 672.4,327.7 C671.7,328.7 671.4,330.6 671.2,331.2" fill="none" stroke="#6e3232" stroke-width="5.0" stroke-linecap="round" stroke-linejoin="round"/><path d="M643.6,276.4 C644.2,277.0 646.3,278.4 647.1,280.0 C647.9,281.6 648.2,284.0 648.5,285.7 C648.8,287.4 648.4,288.5 648.8,290.0 C649.1,291.5 649.7,292.9 650.6,294.7 C651.5,296.5 652.5,299.2 654.1,300.6 C655.7,302.0 657.8,302.6 660.0,303.0 C662.2,303.4 664.9,302.7 667.1,303.0 C669.3,303.3 671.2,303.6 673.0,304.7 C674.8,305.8 676.5,307.6 677.7,309.4 C678.9,311.2 679.9,313.3 680.1,315.3 C680.3,317.3 679.7,319.5 678.9,321.2 C678.1,322.9 676.5,324.3 675.4,325.4 C674.3,326.5 673.1,326.7 672.4,327.7 C671.7,328.7 671.4,330.6 671.2,331.2" fill="none" stroke="#ecd096" stroke-width="1.0" stroke-linecap="round"/><path d="M671.2,324.2 C671.0,325.2 670.2,328.3 670.1,330.1 C670.0,331.9 670.2,333.0 670.9,334.8 C671.6,336.6 673.3,338.9 674.2,340.7 C675.1,342.5 675.9,343.8 676.5,345.4 C677.1,347.0 677.7,348.5 677.7,350.1 C677.7,351.7 676.9,353.4 676.5,354.8 C676.1,356.2 675.6,357.8 675.4,358.4" fill="none" stroke="#6e3232" stroke-width="3.6" stroke-linecap="round" stroke-linejoin="round"/><path d="M671.2,324.2 C671.0,325.2 670.2,328.3 670.1,330.1 C670.0,331.9 670.2,333.0 670.9,334.8 C671.6,336.6 673.3,338.9 674.2,340.7 C675.1,342.5 675.9,343.8 676.5,345.4 C677.1,347.0 677.7,348.5 677.7,350.1 C677.7,351.7 676.9,353.4 676.5,354.8 C676.1,356.2 675.6,357.8 675.4,358.4" fill="none" stroke="#ffffff" stroke-width="1.1" stroke-linecap="round"/><path d="M665.0,292.9 L664.2,300.0" fill="none" stroke="#6e3232" stroke-width="3.6" stroke-linecap="round" stroke-linejoin="round"/><path d="M651.8,315.3 C652.4,315.5 654.2,315.7 655.3,316.5 C656.4,317.3 657.4,318.8 658.3,320.1 C659.2,321.4 659.7,323.3 660.6,324.2 C661.5,325.1 662.4,325.7 663.6,325.4 C664.8,325.1 666.5,323.1 667.7,322.4 C668.9,321.7 670.1,321.4 670.6,321.2" fill="none" stroke="#6e3232" stroke-width="3.6" stroke-linecap="round" stroke-linejoin="round"/><path d="M727.9,298.3 C727.8,299.6 727.8,303.6 727.3,306.2 C726.8,308.8 725.3,311.6 725.1,314.0 C724.9,316.4 726.2,318.3 726.2,320.7 C726.2,323.1 725.8,326.3 725.1,328.5 C724.5,330.7 723.3,332.2 722.3,334.1 C721.3,336.0 720.1,337.9 719.0,339.6 C717.9,341.3 716.7,342.8 715.6,344.1 C714.5,345.4 712.8,346.9 712.3,347.5" fill="none" stroke="#6e3232" stroke-width="3.4" stroke-linecap="round" stroke-linejoin="round"/><path d="M727.9,298.3 C727.8,299.6 727.8,303.6 727.3,306.2 C726.8,308.8 725.3,311.6 725.1,314.0 C724.9,316.4 726.2,318.3 726.2,320.7 C726.2,323.1 725.8,326.3 725.1,328.5 C724.5,330.7 723.3,332.2 722.3,334.1 C721.3,336.0 720.1,337.9 719.0,339.6 C717.9,341.3 716.7,342.8 715.6,344.1 C714.5,345.4 712.8,346.9 712.3,347.5" fill="none" stroke="#e8c8c0" stroke-width="0.5" stroke-linecap="round"/><path d="M727.9,298.3 L727.3,306.2" fill="none" stroke="#6e3232" stroke-width="5.2" stroke-linecap="round" stroke-linejoin="round"/><path d="M747.4,306.2 C746.6,306.3 744.2,306.0 742.4,306.7 C740.6,307.4 738.4,309.2 736.8,310.6 C735.2,312.0 733.6,313.8 732.9,315.1 C732.2,316.4 731.8,317.6 732.4,318.4 C733.0,319.2 735.6,320.0 736.8,320.1 C738.0,320.2 739.0,318.4 739.6,319.0 C740.2,319.6 740.9,322.4 740.7,324.0 C740.5,325.6 738.9,327.8 738.5,328.5" fill="none" stroke="#6e3232" stroke-width="4.4" stroke-linecap="round" stroke-linejoin="round"/><path d="M745.0,332.9 C745.5,333.5 747.4,334.6 747.8,336.3 C748.2,338.0 747.1,340.8 747.3,343.0 C747.5,345.2 748.5,347.6 749.0,349.7 C749.5,351.8 750.0,353.2 750.1,355.3 C750.2,357.4 749.7,360.0 749.5,362.0 C749.3,364.0 749.0,365.6 749.0,367.5 C749.0,369.4 749.4,372.2 749.5,373.1" fill="none" stroke="#6e3232" stroke-width="3.2" stroke-linecap="round" stroke-linejoin="round"/><path d="M745.0,332.9 C745.5,333.5 747.4,334.6 747.8,336.3 C748.2,338.0 747.1,340.8 747.3,343.0 C747.5,345.2 748.5,347.6 749.0,349.7 C749.5,351.8 750.0,353.2 750.1,355.3 C750.2,357.4 749.7,360.0 749.5,362.0 C749.3,364.0 749.0,365.6 749.0,367.5 C749.0,369.4 749.4,372.2 749.5,373.1" fill="none" stroke="#e8c8c0" stroke-width="0.5" stroke-linecap="round"/><path d="M764.6,314.5 C763.8,315.1 760.5,316.8 759.6,318.4 C758.7,320.0 759.7,322.5 759.0,324.0 C758.3,325.5 755.9,326.1 755.6,327.4 C755.3,328.7 756.3,330.5 757.3,331.8 C758.3,333.1 760.1,334.3 761.8,335.2 C763.5,336.1 765.9,336.7 767.4,337.4 C768.9,338.1 770.0,338.3 770.7,339.6 C771.4,340.9 771.4,343.3 771.8,345.2 C772.2,347.1 772.4,349.1 772.9,350.8 C773.4,352.5 774.3,354.6 774.6,355.3" fill="none" stroke="#6e3232" stroke-width="3.4" stroke-linecap="round" stroke-linejoin="round"/><path d="M764.6,314.5 C763.8,315.1 760.5,316.8 759.6,318.4 C758.7,320.0 759.7,322.5 759.0,324.0 C758.3,325.5 755.9,326.1 755.6,327.4 C755.3,328.7 756.3,330.5 757.3,331.8 C758.3,333.1 760.1,334.3 761.8,335.2 C763.5,336.1 765.9,336.7 767.4,337.4 C768.9,338.1 770.0,338.3 770.7,339.6 C771.4,340.9 771.4,343.3 771.8,345.2 C772.2,347.1 772.4,349.1 772.9,350.8 C773.4,352.5 774.3,354.6 774.6,355.3" fill="none" stroke="#e8c8c0" stroke-width="0.5" stroke-linecap="round"/><path d="M766.8,329.6 C767.1,330.4 767.9,332.7 768.5,334.1 C769.1,335.5 770.3,337.4 770.7,338.0" fill="none" stroke="#6e3232" stroke-width="3.2" stroke-linecap="round" stroke-linejoin="round"/><path d="M708.9,338.5 L714.5,345.2" fill="none" stroke="#6e3232" stroke-width="2.6" stroke-linecap="round" stroke-linejoin="round"/><path d="M684.8,357.2 C685.2,357.8 686.3,359.3 687.1,360.7 C687.9,362.1 689.1,364.6 689.5,365.4" fill="none" stroke="#6e3232" stroke-width="1.9" stroke-linecap="round" stroke-linejoin="round"/><path d="M691.9,356.0 C692.1,356.8 692.9,358.9 693.0,360.7 C693.1,362.5 692.5,365.6 692.4,366.6" fill="none" stroke="#6e3232" stroke-width="1.9" stroke-linecap="round" stroke-linejoin="round"/><path d="M698.9,339.5 C698.8,340.7 698.3,344.2 698.3,346.6 C698.3,349.0 698.7,351.2 698.9,353.6 C699.1,356.0 699.3,358.3 699.5,360.7 C699.7,363.1 700.0,366.6 700.1,367.8" fill="none" stroke="#6e3232" stroke-width="1.9" stroke-linecap="round" stroke-linejoin="round"/><path d="M695.4,356.0 C695.5,357.2 695.8,361.1 696.0,363.1 C696.2,365.1 696.5,367.0 696.6,367.8" fill="none" stroke="#6e3232" stroke-width="1.9" stroke-linecap="round" stroke-linejoin="round"/><path d="M756.2,355.3 C756.4,356.0 756.8,358.2 757.3,359.7 C757.8,361.2 758.7,363.4 759.0,364.2" fill="none" stroke="#6e3232" stroke-width="1.9" stroke-linecap="round" stroke-linejoin="round"/><path d="M634.7,22.9 C635.6,23.4 637.8,24.8 639.8,26.2 C641.8,27.6 644.8,29.3 646.9,31.1 C649.0,32.9 650.5,34.6 652.5,36.9 C654.5,39.1 656.6,41.8 658.9,44.6 C661.2,47.4 664.2,51.0 666.5,53.5 C668.8,56.0 671.5,57.4 672.9,59.9 C674.3,62.4 674.7,65.6 674.7,68.8 C674.7,72.0 673.6,75.6 672.9,79.0 C672.2,82.4 671.1,85.8 670.4,89.2 C669.7,92.6 668.6,96.0 668.6,99.4 C668.6,102.8 670.1,106.4 670.4,109.6 C670.7,112.8 671.0,115.8 670.4,118.5 C669.8,121.2 667.4,123.8 666.5,126.1 C665.6,128.4 664.9,130.2 665.3,132.5 C665.7,134.8 667.2,137.5 669.1,140.1 C671.0,142.7 674.4,145.2 676.7,147.8 C679.0,150.4 681.6,152.4 683.1,155.4 C684.6,158.4 685.2,162.2 685.6,165.6 C686.0,169.0 685.0,172.4 685.6,175.8 C686.2,179.2 687.6,182.6 689.5,186.0 C691.4,189.4 695.4,193.9 697.1,196.2 C698.8,198.5 699.2,199.4 699.6,200.0" fill="none" stroke="#ffc814" stroke-width="3.4" stroke-linecap="round" stroke-dasharray="1.1 5.8"/><path d="M730.2,127.4 C728.9,127.4 725.2,126.8 722.6,127.4 C720.0,128.0 717.5,129.9 714.9,131.2 C712.3,132.5 709.6,133.5 707.3,135.0 C705.0,136.5 702.8,138.0 700.9,140.1 C699.0,142.2 697.7,145.5 695.8,147.8 C693.9,150.1 691.4,152.4 689.5,154.1 C687.6,155.8 685.2,157.3 684.4,158.0" fill="none" stroke="#ffc814" stroke-width="3.4" stroke-linecap="round" stroke-dasharray="1.1 5.8"/><path d="M593.9,84.1 C593.5,85.1 592.2,88.1 591.4,90.4 C590.5,92.7 589.9,95.8 588.8,98.1 C587.7,100.4 586.2,102.4 584.8,104.3 C583.4,106.2 581.7,108.0 580.3,109.7 C578.9,111.4 578.1,112.8 576.4,114.3 C574.7,115.8 572.5,117.8 570.3,118.9 C568.1,120.0 565.6,120.5 563.4,121.1 C561.2,121.7 559.3,121.7 557.3,122.7 C555.3,123.7 553.1,125.7 551.2,127.3 C549.3,128.9 547.4,130.8 545.9,132.6 C544.4,134.4 542.8,136.1 542.0,138.0 C541.2,139.9 541.0,141.8 541.3,144.1 C541.6,146.4 542.3,149.7 543.6,151.7 C544.9,153.7 547.4,154.5 548.9,156.3 C550.4,158.1 551.9,160.2 552.7,162.4 C553.5,164.6 553.9,167.3 553.5,169.3 C553.1,171.3 551.6,173.2 550.4,174.6 C549.2,176.0 548.2,176.1 546.5,177.7 C544.8,179.3 541.2,181.3 540.1,184.1 C539.0,186.9 539.5,191.3 540.1,194.3 C540.7,197.3 543.5,199.2 543.9,201.9 C544.3,204.7 543.8,208.2 542.7,210.8 C541.7,213.4 539.3,214.9 537.6,217.2 C535.9,219.5 533.8,222.2 532.5,224.8 C531.2,227.4 530.3,229.9 529.9,232.5 C529.5,235.1 530.3,237.8 529.9,240.1 C529.5,242.4 528.7,243.9 527.4,246.5 C526.1,249.1 523.8,252.8 522.3,255.4 C520.8,257.9 519.6,259.7 518.5,261.8 C517.4,263.9 517.0,265.9 515.9,268.2 C514.8,270.5 513.0,273.5 512.1,275.8 C511.2,278.1 511.0,281.1 510.8,282.2" fill="none" stroke="#ffc814" stroke-width="3.4" stroke-linecap="round" stroke-dasharray="1.1 5.8"/><path d="M542.0,141.0 C543.1,141.4 546.7,142.5 548.9,143.3 C551.1,144.1 553.0,144.7 555.0,145.6 C557.0,146.5 558.9,147.7 561.1,148.7 C563.3,149.7 565.7,150.4 568.0,151.7 C570.3,153.0 572.7,154.9 574.9,156.3 C577.1,157.7 579.0,158.8 581.0,160.1 C583.0,161.4 585.2,162.6 587.1,163.9 C589.0,165.2 590.6,166.3 592.5,167.8 C594.4,169.3 596.7,171.4 598.6,173.1 C600.5,174.8 602.4,176.0 603.9,177.7 C605.4,179.4 605.9,181.2 607.9,183.4 C609.9,185.6 613.0,188.6 615.6,191.1 C618.2,193.6 620.8,195.9 623.2,198.7 C625.7,201.4 627.8,205.3 630.3,207.6 C632.8,209.9 635.0,211.6 638.0,212.7 C641.0,213.8 644.8,214.2 648.2,214.0 C651.6,213.8 654.9,212.6 658.3,211.5 C661.7,210.4 664.9,208.9 668.5,207.6 C672.1,206.3 676.5,204.9 680.0,203.8 C683.5,202.7 685.7,201.8 689.3,201.2 C692.9,200.6 699.6,200.2 701.7,200.0" fill="none" stroke="#ffc814" stroke-width="3.4" stroke-linecap="round" stroke-dasharray="1.1 5.8"/><path d="M700.4,205.0 C699.8,206.7 698.4,211.8 696.7,214.9 C695.1,218.0 692.4,220.7 690.5,223.6 C688.6,226.5 686.6,229.5 685.6,232.2 C684.6,234.9 684.3,237.2 684.3,239.7 C684.3,242.2 686.0,244.8 685.6,247.1 C685.2,249.4 684.1,251.7 681.8,253.3 C679.5,255.0 675.2,256.0 671.9,257.0 C668.6,258.0 664.7,258.1 662.0,259.5 C659.3,260.9 657.7,263.2 655.8,265.7 C653.9,268.2 652.0,271.3 650.8,274.4 C649.6,277.5 649.0,281.0 648.4,284.3 C647.8,287.6 647.7,290.9 647.1,294.2 C646.5,297.5 645.6,300.7 644.6,304.2 C643.6,307.7 642.5,311.6 640.9,315.3 C639.2,319.0 637.4,322.6 634.7,326.5 C632.0,330.4 628.1,335.6 624.8,338.9 C621.5,342.2 618.2,344.4 614.9,346.3 C611.6,348.2 607.5,348.5 605.0,350.0 C602.5,351.5 601.9,353.9 599.7,355.4 C597.6,356.9 594.6,358.1 592.1,359.2 C589.6,360.3 585.8,361.4 584.5,361.8" fill="none" stroke="#ffc814" stroke-width="3.4" stroke-linecap="round" stroke-dasharray="1.1 5.8"/><path d="M776.1,262.0 C774.5,262.2 769.5,262.6 766.2,263.2 C762.9,263.8 759.5,264.7 756.2,265.7 C752.9,266.7 749.6,267.9 746.3,269.4 C743.0,270.8 739.3,272.3 736.4,274.4 C733.5,276.5 731.1,279.3 729.0,281.8 C726.9,284.3 725.7,286.6 724.0,289.3 C722.3,292.0 721.1,295.5 719.0,298.0 C716.9,300.5 714.5,302.3 711.6,304.2 C708.7,306.1 705.0,307.7 701.7,309.1 C698.4,310.5 695.1,311.6 691.8,312.8 C688.5,314.1 683.5,316.0 681.8,316.6" fill="none" stroke="#ffc814" stroke-width="3.4" stroke-linecap="round" stroke-dasharray="1.1 5.8"/><path d="M778.6,299.2 C776.9,299.6 771.9,300.9 768.6,301.7 C765.3,302.5 762.0,303.4 758.7,304.2 C755.4,305.0 751.9,305.4 748.8,306.6 C745.7,307.8 742.4,309.9 740.1,311.6 C737.8,313.3 737.1,315.0 735.2,316.6 C733.4,318.2 731.3,319.9 729.0,321.5 C726.7,323.1 724.0,324.9 721.5,326.5 C719.0,328.1 716.2,329.5 714.1,331.4 C712.0,333.2 710.6,335.1 709.1,337.6 C707.6,340.1 706.2,343.2 705.4,346.3 C704.6,349.4 704.6,352.5 704.2,356.2 C703.8,359.9 703.3,364.9 702.9,368.6 C702.5,372.3 701.9,376.9 701.7,378.6" fill="none" stroke="#ffc814" stroke-width="3.4" stroke-linecap="round" stroke-dasharray="1.1 5.8"/><path d="M621.4,375.8 C622.9,374.9 627.3,372.4 630.3,370.7 C633.3,369.0 636.4,367.3 639.2,365.6 C642.0,363.9 644.6,362.4 646.9,360.5 C649.2,358.6 651.3,356.4 653.2,354.1 C655.1,351.8 656.8,349.0 658.3,346.5 C659.8,344.0 660.9,341.7 662.2,338.9 C663.5,336.1 665.4,331.4 666.0,329.9" fill="none" stroke="#ffc814" stroke-width="3.4" stroke-linecap="round" stroke-dasharray="1.1 5.8"/><text x="494.5" y="190.4" font-weight="bold" font-size="10.6" textLength="3.6" lengthAdjust="spacingAndGlyphs" fill="#000" stroke="#000" stroke-width="0.3">I</text><text x="621.4" y="130.4" font-weight="bold" font-size="10.6" textLength="7.3" lengthAdjust="spacingAndGlyphs" fill="#000" stroke="#000" stroke-width="0.3">II</text><text x="587.5" y="250.4" font-weight="bold" font-size="10.6" textLength="10.8" lengthAdjust="spacingAndGlyphs" fill="#000" stroke="#000" stroke-width="0.3">III</text><text x="688.9" y="109.5" font-weight="bold" font-size="10.6" textLength="12.2" lengthAdjust="spacingAndGlyphs" fill="#000" stroke="#000" stroke-width="0.3">IV</text><text x="716.5" y="246.5" font-weight="bold" font-size="10.6" textLength="8.6" lengthAdjust="spacingAndGlyphs" fill="#000" stroke="#000" stroke-width="0.3">V</text><text x="708.8" y="320.4" font-weight="bold" font-size="10.6" textLength="12.2" lengthAdjust="spacingAndGlyphs" fill="#000" stroke="#000" stroke-width="0.3">VI</text><text x="750.1" y="348.5" font-weight="bold" font-size="10.6" textLength="15.8" lengthAdjust="spacingAndGlyphs" fill="#000" stroke="#000" stroke-width="0.3">VII</text><text x="632.0" y="344.5" font-weight="bold" font-size="10.6" textLength="19.4" lengthAdjust="spacingAndGlyphs" fill="#000" stroke="#000" stroke-width="0.3">VIII</text></g><g transform="translate(-1.0,410.8)"><g clip-path="url(#clipLand)"><g filter="url(#fc)"><rect x="300" y="-100" width="600" height="600" fill="#7a7a7a"/><path d="M640.0,-20.0 L800.0,-20.0 L800.0,420.0 L630.0,420.0Z" fill="#999999"/><path d="M728.0,-20.0 L800.0,-20.0 L800.0,420.0 L735.0,420.0Z" fill="#b8b8b8"/><path d="M380.0,100.0 L520.0,90.0 L600.0,60.0 L650.0,-10.0 L720.0,40.0 L790.0,40.0 L748.0,95.0 L706.0,120.0 L655.0,140.0 L595.0,160.0 L556.0,188.0 L542.0,228.0 L515.0,282.0 L380.0,285.0Z" fill="#404040"/><path d="M380.0,100.0 L520.0,90.0 L600.0,60.0 L650.0,-10.0 L720.0,40.0 L770.0,50.0 L740.0,72.0 L700.0,98.0 L650.0,118.0 L585.0,138.0 L540.0,170.0 L525.0,215.0 L500.0,265.0 L380.0,265.0Z" fill="#000000"/><path d="M500.0,240.0 L535.0,205.0 L556.0,230.0 L560.0,300.0 L558.0,345.0 L520.0,330.0 L490.0,260.0Z" fill="#474747"/><ellipse cx="578" cy="266" rx="18" ry="46" fill="#2b2b2b" transform="rotate(8 578 266)"/><ellipse cx="655" cy="186" rx="28" ry="14" fill="#bdbdbd" transform="rotate(-10 655 186)"/><ellipse cx="714" cy="168" rx="20" ry="20" fill="#f7f7f7" transform="rotate(0 714 168)"/><ellipse cx="721" cy="246" rx="22" ry="18" fill="#808080" transform="rotate(0 721 246)"/><ellipse cx="683" cy="242" rx="10" ry="20" fill="#616161" transform="rotate(-25 683 242)"/><ellipse cx="694" cy="270" rx="12.5" ry="13" fill="#000000" transform="rotate(0 694 270)"/><ellipse cx="605" cy="336" rx="30" ry="16" fill="#999999" transform="rotate(-15 605 336)"/><path d="M650.0,420.0 L655.0,352.0 L700.0,325.0 L745.0,305.0 L800.0,290.0 L800.0,420.0Z" fill="#d6d6d6"/><path d="M655.0,420.0 L660.0,368.0 L700.0,348.0 L745.0,335.0 L800.0,325.0 L800.0,420.0Z" fill="#f2f2f2"/><ellipse cx="642" cy="341" rx="25" ry="14" fill="#c2c2c2" transform="rotate(-30 642 341)"/></g></g><g clip-path="url(#clipLand)"><g clip-path="url(#clipHatch)"><rect x="380" y="80" width="220" height="300" fill="url(#hatchB)"/></g></g><path d="M642.7,39.5 L644.5,40.0 L646.2,41.1 L647.8,42.0 L648.9,43.6 L649.6,45.3 L650.3,47.1 L650.9,48.8 L651.4,50.6 L652.2,52.2 L651.9,54.2 L651.0,56.1 L650.8,58.6 L650.3,61.1 L652.2,62.8 L653.5,65.0 L654.8,67.1 L656.7,68.8 L657.2,71.0 L657.3,73.2 L656.0,74.6 L655.4,76.4 L654.1,78.3 L652.2,79.6 L650.1,80.5 L647.8,80.3 L646.3,82.3 L644.6,84.1 L644.3,86.7 L643.9,89.2 L643.2,90.8 L642.7,92.5 L642.7,94.3 L641.4,96.5 L640.1,98.7 L640.2,100.3 L639.8,101.9 L639.6,104.5 L639.8,107.0 L640.1,109.5 L639.8,112.1 L641.2,113.6 L642.8,115.0 L643.4,117.0 L644.9,118.5 L647.1,118.4 L649.2,119.0 L651.2,119.7 L650.4,121.6 L649.8,123.5 L649.2,125.4 L648.7,127.4 L647.9,129.3 L647.1,131.1 L646.3,132.9 L646.1,135.0 L646.1,137.2 L647.3,139.0 L647.8,141.1 L648.6,143.1 L648.7,145.2 L647.8,147.2 L647.1,149.2 L645.4,150.8 L644.9,152.9 L643.1,152.0 L641.0,151.9 L639.2,150.8 L637.2,150.3 L635.1,149.1 L632.6,148.8 L630.7,147.1 L628.3,146.5 L626.3,145.7 L624.2,145.5 L622.3,144.5 L620.0,144.9 L618.1,143.9 L616.6,145.0 L614.7,144.8 L613.1,145.6 L611.1,145.4 L609.0,146.1 L607.0,145.6 L605.0,145.2 L602.9,145.0 L600.9,144.8 L598.6,144.6 L596.3,144.1 L594.5,143.4 L593.4,141.7 L591.7,141.0 L591.4,138.6 L590.2,136.4 L588.7,135.3 L587.0,134.7 L585.6,133.4 L583.6,132.6 L581.6,131.7 L579.5,131.1 L577.5,130.3 L575.6,129.3 L573.4,128.8 L571.3,128.8 L569.4,127.8 L567.3,128.0 L565.3,127.0 L563.0,126.8 L561.1,125.7 L559.3,125.1 L558.3,123.4 L556.6,122.7" fill="none" stroke="#c6bebe" stroke-width="1.2" stroke-linejoin="round"/><path d="M651.2,119.7 L653.8,119.3 L656.3,119.9 L658.9,119.7 L659.4,121.6 L659.9,123.5 L659.9,125.5 L660.2,127.4 L661.5,129.1 L662.8,130.8 L664.0,132.5 L666.5,132.9 L669.1,133.1 L671.6,133.8 L673.0,132.0 L674.9,130.7 L676.3,128.9 L678.0,127.4 L680.0,126.6 L681.9,125.8 L683.9,124.9 L685.6,123.6 L687.9,123.8 L690.1,122.7 L692.3,122.3 L694.6,122.3 L696.6,121.9 L698.4,121.1 L700.2,120.0 L702.2,119.7 L704.0,118.1 L705.9,116.6 L707.3,114.6 L709.2,114.1 L710.6,112.7 L712.4,112.1 L710.5,110.6 L708.6,109.1 L707.3,107.0 L709.4,105.7 L710.5,103.4 L712.4,101.9 L714.2,100.8 L715.8,99.4 L717.5,98.1 L719.6,98.6 L721.8,99.0 L723.9,99.4 L725.5,97.9 L726.5,96.1 L727.7,94.3 L729.3,93.2 L730.9,92.2 L732.8,91.7 L734.3,90.0 L736.2,88.6 L737.4,86.6" fill="none" stroke="#c6bebe" stroke-width="1.2" stroke-linejoin="round"/><path d="M671.6,133.8 L671.6,136.0 L672.3,138.0 L672.9,140.1 L674.5,141.2 L676.1,142.2 L678.0,142.7 L679.8,143.8 L681.1,145.4 L682.5,146.9 L684.4,147.8 L685.8,149.8 L687.7,151.3 L689.5,152.9 L691.0,151.7 L692.9,151.1 L694.6,150.3 L693.7,152.1 L694.4,154.2 L693.8,156.1 L693.3,158.0 L693.5,160.1 L694.6,161.8 L695.5,163.6 L695.8,165.6 L695.7,168.2 L694.8,170.6 L695.1,173.3 L694.6,175.8 L695.3,177.7 L695.7,179.6 L696.2,181.6 L697.1,183.4 L698.8,185.1 L700.8,186.5 L702.2,188.5 L703.8,190.3 L706.0,191.5 L707.3,193.6 L706.8,195.9 L705.9,198.0 L704.7,200.0 L706.9,200.2 L709.1,200.0 L708.7,202.5 L707.6,204.9 L707.6,207.5 L706.6,209.9 L705.7,212.0 L704.6,213.9 L702.7,215.4 L701.7,217.4 L700.7,219.1 L700.7,221.2 L700.1,223.0 L699.2,224.8 L699.1,227.4 L697.8,229.7 L697.5,232.3 L696.7,234.7 L696.5,237.3 L695.3,239.6 L694.7,242.1 L694.2,244.6 L694.6,246.8 L695.2,248.9 L695.0,251.1 L695.5,253.3" fill="none" stroke="#c6bebe" stroke-width="1.2" stroke-linejoin="round"/><path d="M674.2,197.5 L676.7,197.0 L679.2,196.5 L681.8,196.6 L684.3,196.1 L686.9,196.2 L689.4,195.4 L692.0,195.4 L694.6,195.7 L697.1,194.9 L699.3,194.2 L701.3,193.1 L703.1,191.6 L705.3,190.9 L707.3,189.8" fill="none" stroke="#c6bebe" stroke-width="1.2" stroke-linejoin="round"/><path d="M522.9,131.8 L524.7,133.1 L525.8,135.0 L527.4,136.5 L529.1,137.9 L530.6,139.5 L532.0,141.2 L532.9,143.3 L531.5,144.2 L530.6,145.6 L530.0,147.6 L530.1,149.7 L529.8,151.7 L530.1,153.7 L530.6,155.7 L530.6,157.8 L529.4,159.3 L527.6,160.0 L526.0,160.9 L524.4,162.3 L522.9,163.9 L524.4,165.2 L525.2,167.0 L524.5,169.3 L524.5,171.6 L523.1,172.8 L521.6,173.8 L519.9,174.6 L519.8,176.5 L518.3,178.0 L518.3,180.0 L517.3,182.1 L516.3,184.3 L515.9,186.6 L514.8,188.5 L514.5,190.7 L513.2,192.5 L512.1,194.3 L512.5,196.8 L513.4,199.3 L513.4,201.9 L512.2,203.8 L512.0,206.0 L511.5,208.2 L510.0,209.9 L509.6,212.1 L510.4,214.6 L509.9,217.2 L510.8,219.7 L509.9,221.6 L508.8,223.5 L508.1,225.6 L507.0,227.4 L505.7,229.3 L504.7,231.4 L503.6,233.4 L501.9,235.0 L500.0,236.0 L498.7,237.8 L496.8,238.9 L495.7,240.9 L495.4,243.2 L494.3,245.2" fill="none" stroke="#c6bebe" stroke-width="1.2" stroke-linejoin="round"/><path d="M498.1,236.3 L500.3,237.2 L502.6,238.1 L504.9,238.8 L507.0,240.1 L508.8,241.1 L511.0,240.9 L512.7,242.1 L514.6,242.7 L516.5,244.3 L519.1,244.8 L521.0,246.5 L523.1,247.8 L525.2,249.1 L527.4,250.3 L529.5,250.8 L531.3,252.1 L533.0,253.4 L535.0,254.1 L536.9,253.4 L538.9,252.9 L540.1,251.1 L540.5,248.9 L541.5,247.0 L542.7,245.2 L544.6,244.3 L546.8,244.2 L548.9,244.2 L550.9,243.3 L552.9,242.7" fill="none" stroke="#c6bebe" stroke-width="1.2" stroke-linejoin="round"/><path d="M565.7,150.2 L567.6,151.4 L569.6,152.4 L571.4,153.7 L573.4,154.8 L575.6,156.1 L577.3,158.1 L579.5,159.4 L581.2,160.8 L583.2,161.8 L585.4,162.5 L587.1,163.9 L589.1,165.5 L591.3,166.8 L593.2,168.5 L595.4,169.8 L597.0,172.0 L599.4,173.1 L601.1,175.1 L603.8,175.8 L605.5,177.7 L605.9,179.8 L607.0,181.5 L607.9,183.4 L609.5,184.8 L611.1,186.3 L612.4,188.2 L614.1,189.5 L615.6,191.1 L617.0,192.8 L618.5,194.3 L620.4,195.4 L621.5,197.4 L623.2,198.7" fill="none" stroke="#c6bebe" stroke-width="1.2" stroke-linejoin="round"/><path d="M552.9,242.7 L552.0,240.8 L552.1,238.6 L551.5,236.5 L551.3,234.4 L550.3,232.5 L550.9,230.7 L551.8,229.0 L552.9,227.4 L555.0,227.1 L557.0,226.5 L559.0,225.6 L561.1,225.5 L563.1,224.8 L565.1,223.9 L567.2,223.6 L569.0,222.1 L571.1,221.5 L573.2,221.0 L575.3,220.9 L577.2,219.8 L579.3,219.2 L581.4,219.3 L583.4,218.5 L585.4,219.4 L587.6,219.7 L589.5,220.8 L591.5,221.7 L593.6,222.3 L595.9,222.8 L597.9,224.1 L600.3,224.3 L602.3,225.5 L604.0,224.9 L605.6,224.2 L607.4,224.2 L609.2,223.0 L611.4,222.8 L613.1,221.3 L615.0,220.4 L616.0,218.4 L615.8,216.1 L616.3,214.0 L618.5,213.3 L620.7,212.7 L622.7,211.5 L624.1,209.5 L624.9,207.0 L626.5,205.1 L627.0,203.4 L627.5,201.7 L627.8,200.0" fill="none" stroke="#c6bebe" stroke-width="1.2" stroke-linejoin="round"/><path d="M599.7,224.2 L601.5,225.7 L603.7,226.5 L605.7,227.8 L607.4,229.3 L609.3,230.3 L611.4,230.8 L613.0,232.4 L615.0,233.1 L616.8,234.6 L619.1,235.2 L620.7,237.1 L622.7,238.2 L623.6,240.1 L624.5,242.1 L625.1,244.2 L626.5,245.9 L627.0,248.0 L628.5,249.7 L629.0,251.8 L630.3,253.5 L631.3,255.3 L632.4,257.0 L634.5,258.0 L635.4,259.9 L636.3,261.5 L638.1,262.2 L639.2,263.7 L640.0,265.3 L640.0,267.1 L640.5,268.8 L637.9,268.9 L635.3,269.2 L632.9,270.1 L630.4,270.5 L627.8,270.3 L625.3,271.5 L622.7,271.3 L620.7,272.2 L619.4,274.1 L617.6,275.2 L617.1,277.3 L617.1,279.5 L616.3,281.5 L617.6,283.4 L618.5,285.6 L618.9,287.9 L620.1,289.2 L621.4,290.5 L622.7,291.7 L622.0,293.6 L621.7,295.5 L621.8,297.5 L621.4,299.4 L621.5,302.0 L622.6,304.4 L622.7,307.0 L621.4,309.0 L621.2,311.4 L620.1,313.4 L618.0,313.6 L616.3,314.8 L614.4,315.4 L612.5,315.9 L609.9,315.9 L607.4,316.4 L604.8,315.9 L603.1,317.0 L601.0,317.2 L599.0,317.6 L597.2,318.5 L597.3,321.1 L596.4,323.6 L595.9,326.1 L596.9,328.2 L597.3,330.5 L598.5,332.5 L597.0,334.2 L597.0,336.5 L595.5,338.2 L594.6,340.1 L594.4,342.2 L593.1,343.9 L592.3,345.7 L592.1,347.8 L592.3,349.6 L592.9,351.2 L593.4,352.9" fill="none" stroke="#c6bebe" stroke-width="1.2" stroke-linejoin="round"/><path d="M639.2,263.7 L640.3,261.9 L641.4,260.0 L642.1,258.0 L643.1,256.1 L644.8,254.4 L646.4,252.6 L648.2,251.0 L649.1,248.5 L648.8,245.8 L649.4,243.3 L650.4,241.4 L651.7,239.7 L653.2,238.2 L654.3,240.2 L655.1,242.4 L655.8,244.6 L656.9,246.2 L657.9,247.8 L658.3,249.7 L660.8,249.2 L663.4,248.8 L666.0,248.8 L668.5,248.4 L670.8,248.3 L673.2,248.5 L675.4,248.9 L677.7,249.5 L680.0,249.7 L682.2,250.1 L684.3,250.8 L686.5,251.6 L688.7,252.1 L691.0,252.2 L693.4,252.4 L695.5,253.3 L696.5,255.5 L697.7,257.6 L699.2,259.5 L697.6,260.8 L695.8,261.8 L694.2,263.2 L691.8,263.9 L689.2,263.6 L686.8,264.5 L684.9,265.4 L683.3,266.7 L681.8,268.2 L679.7,268.7 L678.2,270.3 L676.2,270.9 L674.4,271.9 L672.6,273.4 L670.8,275.0 L669.4,276.9 L668.9,279.4 L668.6,281.9 L667.5,284.3 L667.0,286.8 L667.1,289.3 L666.1,291.7 L666.6,294.3 L665.7,296.7" fill="none" stroke="#c6bebe" stroke-width="1.2" stroke-linejoin="round"/><path d="M701.7,218.6 L704.2,218.9 L706.5,220.3 L709.2,220.1 L711.6,221.1 L713.4,221.9 L715.4,221.9 L717.2,222.7 L719.0,223.6 L721.4,224.7 L724.1,224.5 L726.5,225.6 L729.0,226.0 L729.4,223.8 L729.9,221.5 L730.4,219.3 L730.6,217.0 L731.4,214.9 L732.2,212.5 L731.8,209.9 L732.4,207.4 L732.5,204.9 L733.2,202.4 L733.9,200.0 L735.3,200.0 L735.2,197.7 L735.7,195.4 L735.2,193.1 L734.9,190.8 L735.3,188.5" fill="none" stroke="#c6bebe" stroke-width="1.2" stroke-linejoin="round"/><path d="M699.2,259.5 L701.7,259.9 L704.1,260.4 L706.6,260.8 L709.2,260.8 L711.6,259.9 L714.1,259.5 L715.7,258.3 L717.4,257.1 L719.0,255.8 L720.9,257.2 L722.3,259.1 L724.0,260.8 L725.6,262.5 L727.1,264.3 L729.0,265.7 L731.6,265.9 L734.0,266.7 L736.5,267.1 L738.9,268.2 L741.3,268.9 L743.8,269.2 L746.3,269.4 L747.4,271.1 L747.0,273.3 L747.7,275.2 L748.8,276.9 L750.7,275.8 L752.5,274.4 L752.0,271.9 L751.3,269.4" fill="none" stroke="#c6bebe" stroke-width="1.2" stroke-linejoin="round"/><path d="M522.9,131.1 C523.7,131.7 526.1,133.8 527.5,134.9 C528.9,136.1 530.4,136.7 531.3,138.0 C532.2,139.3 532.2,141.2 532.9,142.5 C533.5,143.8 534.4,145.5 535.2,145.6 C536.0,145.7 536.6,143.8 537.5,143.3 C538.4,142.8 539.1,142.5 540.5,142.5 C541.9,142.5 544.0,142.9 545.9,143.3 C547.8,143.7 550.2,144.2 552.0,144.8 C553.8,145.4 555.1,146.3 556.6,147.1 C558.1,147.9 559.7,148.6 561.1,149.4 C562.5,150.2 564.1,150.5 565.0,151.7 C565.9,152.8 566.5,154.8 566.5,156.3 C566.5,157.8 565.6,159.6 565.0,160.9 C564.4,162.2 563.0,162.6 562.7,163.9 C562.4,165.2 563.0,167.0 563.4,168.5 C563.8,170.0 565.1,171.8 565.0,173.1 C564.9,174.4 563.9,175.6 562.7,176.2 C561.6,176.8 559.6,176.9 558.1,176.9 C556.6,176.9 554.8,176.7 553.5,176.2 C552.2,175.7 551.4,174.8 550.4,173.9 C549.4,173.0 548.5,171.4 547.4,170.8 C546.3,170.2 544.5,169.6 543.6,170.1 C542.7,170.6 542.9,172.6 542.0,173.9 C541.1,175.2 539.5,176.7 538.2,177.7 C536.9,178.7 535.1,178.5 534.4,180.0 C533.7,181.5 533.3,184.7 533.8,186.6 C534.3,188.5 536.3,190.0 537.6,191.7 C538.9,193.4 540.5,194.7 541.4,196.8 C542.2,198.9 542.9,201.9 542.7,204.5 C542.5,207.1 541.2,209.8 540.1,212.1 C539.0,214.4 537.6,216.8 536.3,218.5 C535.0,220.2 534.0,220.8 532.5,222.3 C531.0,223.8 528.7,225.5 527.4,227.4 C526.1,229.3 525.4,231.5 524.8,233.8 C524.2,236.1 523.6,238.9 523.6,241.4 C523.6,243.9 523.3,247.1 524.8,249.0 C526.3,250.9 530.0,252.7 532.5,252.9 C535.0,253.1 538.0,251.8 540.1,250.3 C542.2,248.8 543.1,245.2 545.2,243.9 C547.3,242.6 551.5,241.7 552.9,242.7 C554.3,243.7 553.9,247.0 553.9,249.7 C553.9,252.3 552.6,255.4 552.6,258.6 C552.6,261.8 553.0,265.6 553.9,268.8 C554.8,272.0 556.9,274.7 557.7,277.7 C558.6,280.7 559.0,283.6 559.0,286.6 C559.0,289.6 557.7,292.5 557.7,295.5 C557.7,298.5 558.4,301.5 559.0,304.5 C559.6,307.5 561.3,310.4 561.5,313.4 C561.7,316.4 560.9,319.6 560.3,322.3 C559.7,325.1 558.6,327.1 557.7,329.9 C556.9,332.7 555.6,337.4 555.2,338.9" fill="none" stroke="#ffd9b3" stroke-width="1.8" stroke-linejoin="round"/><path d="M659.4,30.5 C659.4,29.1 663.8,29.2 665.9,29.2 C668.0,29.2 670.8,29.3 672.3,30.5 C673.8,31.7 674.6,34.5 674.7,36.6 C674.9,38.7 673.8,41.5 673.2,42.9 C672.7,44.3 672.6,46.1 671.4,45.3 C670.2,44.5 667.9,40.4 665.9,37.9 C663.9,35.4 659.4,31.9 659.4,30.5Z" fill="#ee1c1c" stroke="#2255dd" stroke-width="1.8" stroke-linejoin="round"/><path d="M649.2,0.9 C649.1,2.0 648.8,5.7 648.3,7.4 C647.8,9.1 646.5,9.6 646.5,11.1 C646.5,12.6 647.5,14.8 648.3,16.6 C649.1,18.5 650.0,20.4 651.1,22.2 C652.2,24.0 653.4,26.3 654.8,27.7 C656.2,29.1 658.6,30.0 659.4,30.5" fill="none" stroke="#2255dd" stroke-width="1.5" stroke-linecap="round"/><path d="M648.3,16.6 C648.8,17.5 650.0,20.4 651.1,22.2 C652.2,24.0 653.4,26.3 654.8,27.7 C656.2,29.1 658.6,30.0 659.4,30.5" fill="none" stroke="#2255dd" stroke-width="2.6" stroke-linecap="round"/><path d="M671.4,44.3 C672.8,45.5 677.7,50.6 679.7,51.4 C681.7,52.2 682.0,49.1 683.4,48.9 C684.8,48.6 686.7,49.0 688.4,49.9 C690.1,50.8 692.0,53.0 693.6,54.5 C695.2,56.0 696.4,58.0 698.2,58.7 C700.0,59.4 702.5,58.2 704.6,58.7 C706.8,59.2 709.2,60.9 711.1,61.9 C713.0,62.9 715.3,64.5 716.1,65.0" fill="none" stroke="#2255dd" stroke-width="2.4" stroke-linecap="round"/><path d="M716.1,65.6 C716.6,65.1 718.9,66.5 721.3,66.9 C723.7,67.3 728.0,67.5 730.5,68.0 C733.0,68.5 735.0,69.0 736.1,69.8 C737.2,70.6 737.6,72.4 737.0,73.0 C736.4,73.6 734.4,73.7 732.4,73.5 C730.4,73.3 727.3,72.6 725.0,72.0 C722.7,71.4 720.0,70.9 718.5,69.8 C717.0,68.7 715.6,66.1 716.1,65.6Z" fill="#2255dd"/><path d="M737.0,72.4 C736.9,73.6 738.0,77.0 738.8,79.4 C739.6,81.8 740.5,84.0 741.6,86.8 C742.7,89.6 744.0,93.4 745.3,96.1 C746.6,98.8 747.9,101.2 749.4,102.9 C750.9,104.7 752.7,106.1 754.5,106.6 C756.3,107.1 758.4,106.2 760.4,105.7 C762.4,105.2 765.2,106.0 766.2,103.8 C767.2,101.6 767.3,94.6 766.3,92.4 C765.3,90.2 762.3,91.1 760.4,90.5 C758.5,89.9 756.7,89.6 754.9,88.7 C753.1,87.8 751.2,86.8 749.4,85.0 C747.5,83.2 745.4,79.7 743.8,77.6 C742.2,75.5 740.8,73.3 739.7,72.4 C738.6,71.5 737.1,71.2 737.0,72.4Z" fill="#2255dd"/><path d="M685.8,51.4 C685.8,50.6 687.3,50.2 688.4,50.8 C689.5,51.4 691.4,53.6 692.6,55.0 C693.8,56.4 695.4,58.5 695.4,59.1 C695.4,59.7 693.8,59.3 692.6,58.7 C691.4,58.1 689.5,56.6 688.4,55.4 C687.3,54.2 685.8,52.2 685.8,51.4Z" fill="#ececec"/><path d="M697.3,61.9 C697.9,61.0 701.4,60.5 703.7,60.6 C706.0,60.8 709.5,62.1 711.1,62.8 C712.7,63.5 714.3,64.4 713.5,65.0 C712.7,65.6 708.8,66.3 706.5,66.5 C704.2,66.7 701.5,66.7 700.0,65.9 C698.5,65.1 696.7,62.8 697.3,61.9Z" fill="#ececec"/><path d="M746.2,86.8 C747.1,87.0 748.8,91.0 750.8,92.4 C752.8,93.8 756.2,94.6 758.2,95.1 C760.2,95.5 762.6,94.3 763.0,95.1 C763.4,95.9 762.0,98.9 760.4,99.7 C758.8,100.5 755.6,100.6 753.6,100.1 C751.6,99.5 749.6,97.9 748.2,96.4 C746.9,94.9 745.8,92.5 745.5,90.9 C745.2,89.3 745.3,86.5 746.2,86.8Z" fill="#ececec"/><use href="#land" fill="none" stroke="#6e3232" stroke-width="2.4" stroke-linejoin="round"/><path d="M630.0,359.2 L631.7,358.1 L633.6,357.4 L635.3,356.4 L637.1,355.6 L638.7,354.1 L640.2,352.5 L641.3,350.6 L642.8,348.9 L644.7,347.7 L646.5,346.4 L647.7,344.4 L649.4,343.0 L650.4,341.4 L652.1,340.4 L652.9,338.6 L654.1,337.1 L655.6,335.3 L656.5,333.2 L657.7,331.2 L658.7,329.8 L659.4,328.3 L660.5,330.6 L660.9,333.1 L661.8,335.4 L663.5,336.2 L665.3,336.2 L666.7,335.0 L668.0,333.8 L667.9,335.5 L668.3,337.1 L667.4,339.1 L667.2,341.4 L665.8,343.2 L665.3,345.4 L664.5,347.4 L664.0,349.6 L663.6,351.7 L662.4,353.6 L661.4,355.6 L661.2,357.8 L660.4,359.8 L660.0,361.9 L659.6,364.2 L660.0,366.6 L661.7,367.7 L663.6,368.4 L665.6,368.6 L667.5,367.9 L669.5,367.8 L671.4,366.8 L673.0,365.4 L673.4,363.6 L674.4,362.0 L674.4,360.1 L675.4,358.4 L676.3,359.8 L677.7,360.7 L679.2,361.6 L680.1,363.1 L679.2,365.1 L677.7,366.6 L676.5,368.5 L674.8,370.1 L674.0,371.8 L674.2,373.7 L675.4,374.2 L676.5,374.8 L677.8,373.1 L678.9,371.3 L680.0,370.5 L681.2,370.1 L682.4,371.3 L683.6,372.5 L685.1,373.0 L686.5,373.7 L687.9,371.8 L689.5,370.1 L690.8,368.4 L691.9,366.6 L693.7,366.1 L695.4,365.4 L696.3,366.9 L697.7,367.8 L698.8,369.4 L700.1,370.7 L701.0,372.0 L702.5,372.7 L704.2,373.3 L706.0,373.1 L706.9,371.3 L707.1,369.3 L707.0,367.2 L707.8,365.4 L708.1,363.0 L708.1,360.7 L707.9,358.3 L707.4,356.0 L707.6,353.7 L707.9,351.3 L707.5,348.9 L707.9,346.6 L708.4,344.6 L708.3,342.5 L708.2,340.4 L708.6,338.3 L710.3,340.1 L711.2,342.4 L711.6,344.2 L712.2,346.0 L713.4,347.5 L713.6,349.4 L712.7,351.1 L712.8,353.0 L713.3,355.2 L713.9,357.4 L714.0,359.7 L714.0,362.0 L713.3,364.1 L713.4,366.4 L712.3,368.1 L712.4,370.3 L711.2,372.0 L710.2,373.6 L709.5,375.4 L711.1,375.8 L712.3,377.0 L714.0,376.4 L715.6,375.4 L716.0,373.1 L716.7,370.9 L717.9,369.4 L718.4,367.5 L720.4,366.2 L721.8,364.2 L722.3,364.2 L722.9,362.0 L723.9,359.9 L724.0,357.5 L724.4,355.6 L724.7,353.6 L725.7,351.9 L726.3,349.7 L726.3,347.3 L727.3,345.2 L727.8,343.2 L728.7,341.4 L729.6,339.6 L730.6,337.8 L731.2,335.8 L732.4,334.1 L733.1,332.2 L734.9,331.0 L735.5,329.0 L736.8,327.4 L737.4,328.5 L736.4,330.6 L735.9,332.9 L735.7,335.2 L735.1,337.5 L734.3,339.7 L733.5,341.9 L733.3,344.1 L733.0,346.4 L732.9,348.6 L733.0,350.8 L733.1,353.1 L733.2,355.3 L733.5,357.5 L733.2,359.7 L733.7,362.0 L733.9,364.2 L734.0,366.4 L734.0,368.7 L734.7,370.8 L734.6,373.1 L736.5,372.9 L738.3,373.1 L740.0,373.6 L741.7,373.1 L743.2,373.9 L744.7,374.7 L746.2,375.4 L748.2,375.8 L749.9,376.9 L751.7,377.8 L753.7,377.5 L755.6,377.0 L755.5,375.0 L756.4,373.1 L757.4,371.3 L758.3,369.4 L759.0,367.5 L760.6,368.0 L761.8,369.2 L764.0,370.2 L766.2,370.9 L767.9,370.0 L769.6,369.2 L771.9,368.5 L774.1,367.5 L775.1,365.8 L776.3,364.2 L776.0,361.9 L775.2,359.7 L774.6,357.4 L773.5,355.3 L773.6,352.9 L774.6,350.8 L776.3,352.2 L777.4,354.2 L779.0,355.7 L780.8,356.9 L782.7,356.5 L784.1,355.3 L783.3,353.7 L783.0,351.9 L781.5,350.8 L780.1,349.6 L778.5,348.6 L777.5,346.4 L776.9,344.1 L776.6,341.9 L776.3,339.7 L776.3,337.4 L774.5,336.4 L772.9,335.2 L774.4,333.6 L775.7,331.8 L775.8,329.6 L776.3,327.4 L775.5,326.0 L775.1,324.3 L774.1,322.9 L772.9,321.6 L772.6,319.9 L771.8,318.4 L772.8,316.7 L773.2,314.7 L774.1,312.9 L775.0,311.2 L776.5,310.1 L777.4,308.4 L775.6,306.9 L774.1,305.0 L773.0,303.3 L772.5,301.4 L771.8,299.5 L770.5,297.9 L768.6,296.8 L767.4,295.0" fill="none" stroke="#6e3232" stroke-width="3.0" stroke-linejoin="round" stroke-linecap="round"/><path d="M643.6,276.4 C644.2,277.0 646.3,278.4 647.1,280.0 C647.9,281.6 648.2,284.0 648.5,285.7 C648.8,287.4 648.4,288.5 648.8,290.0 C649.1,291.5 649.7,292.9 650.6,294.7 C651.5,296.5 652.5,299.2 654.1,300.6 C655.7,302.0 657.8,302.6 660.0,303.0 C662.2,303.4 664.9,302.7 667.1,303.0 C669.3,303.3 671.2,303.6 673.0,304.7 C674.8,305.8 676.5,307.6 677.7,309.4 C678.9,311.2 679.9,313.3 680.1,315.3 C680.3,317.3 679.7,319.5 678.9,321.2 C678.1,322.9 676.5,324.3 675.4,325.4 C674.3,326.5 673.1,326.7 672.4,327.7 C671.7,328.7 671.4,330.6 671.2,331.2" fill="none" stroke="#6e3232" stroke-width="5.0" stroke-linecap="round" stroke-linejoin="round"/><path d="M643.6,276.4 C644.2,277.0 646.3,278.4 647.1,280.0 C647.9,281.6 648.2,284.0 648.5,285.7 C648.8,287.4 648.4,288.5 648.8,290.0 C649.1,291.5 649.7,292.9 650.6,294.7 C651.5,296.5 652.5,299.2 654.1,300.6 C655.7,302.0 657.8,302.6 660.0,303.0 C662.2,303.4 664.9,302.7 667.1,303.0 C669.3,303.3 671.2,303.6 673.0,304.7 C674.8,305.8 676.5,307.6 677.7,309.4 C678.9,311.2 679.9,313.3 680.1,315.3 C680.3,317.3 679.7,319.5 678.9,321.2 C678.1,322.9 676.5,324.3 675.4,325.4 C674.3,326.5 673.1,326.7 672.4,327.7 C671.7,328.7 671.4,330.6 671.2,331.2" fill="none" stroke="#ecd096" stroke-width="1.0" stroke-linecap="round"/><path d="M671.2,324.2 C671.0,325.2 670.2,328.3 670.1,330.1 C670.0,331.9 670.2,333.0 670.9,334.8 C671.6,336.6 673.3,338.9 674.2,340.7 C675.1,342.5 675.9,343.8 676.5,345.4 C677.1,347.0 677.7,348.5 677.7,350.1 C677.7,351.7 676.9,353.4 676.5,354.8 C676.1,356.2 675.6,357.8 675.4,358.4" fill="none" stroke="#6e3232" stroke-width="3.6" stroke-linecap="round" stroke-linejoin="round"/><path d="M671.2,324.2 C671.0,325.2 670.2,328.3 670.1,330.1 C670.0,331.9 670.2,333.0 670.9,334.8 C671.6,336.6 673.3,338.9 674.2,340.7 C675.1,342.5 675.9,343.8 676.5,345.4 C677.1,347.0 677.7,348.5 677.7,350.1 C677.7,351.7 676.9,353.4 676.5,354.8 C676.1,356.2 675.6,357.8 675.4,358.4" fill="none" stroke="#ffffff" stroke-width="1.1" stroke-linecap="round"/><path d="M665.0,292.9 L664.2,300.0" fill="none" stroke="#6e3232" stroke-width="3.6" stroke-linecap="round" stroke-linejoin="round"/><path d="M651.8,315.3 C652.4,315.5 654.2,315.7 655.3,316.5 C656.4,317.3 657.4,318.8 658.3,320.1 C659.2,321.4 659.7,323.3 660.6,324.2 C661.5,325.1 662.4,325.7 663.6,325.4 C664.8,325.1 666.5,323.1 667.7,322.4 C668.9,321.7 670.1,321.4 670.6,321.2" fill="none" stroke="#6e3232" stroke-width="3.6" stroke-linecap="round" stroke-linejoin="round"/><path d="M727.9,298.3 C727.8,299.6 727.8,303.6 727.3,306.2 C726.8,308.8 725.3,311.6 725.1,314.0 C724.9,316.4 726.2,318.3 726.2,320.7 C726.2,323.1 725.8,326.3 725.1,328.5 C724.5,330.7 723.3,332.2 722.3,334.1 C721.3,336.0 720.1,337.9 719.0,339.6 C717.9,341.3 716.7,342.8 715.6,344.1 C714.5,345.4 712.8,346.9 712.3,347.5" fill="none" stroke="#6e3232" stroke-width="3.4" stroke-linecap="round" stroke-linejoin="round"/><path d="M727.9,298.3 C727.8,299.6 727.8,303.6 727.3,306.2 C726.8,308.8 725.3,311.6 725.1,314.0 C724.9,316.4 726.2,318.3 726.2,320.7 C726.2,323.1 725.8,326.3 725.1,328.5 C724.5,330.7 723.3,332.2 722.3,334.1 C721.3,336.0 720.1,337.9 719.0,339.6 C717.9,341.3 716.7,342.8 715.6,344.1 C714.5,345.4 712.8,346.9 712.3,347.5" fill="none" stroke="#e8c8c0" stroke-width="0.5" stroke-linecap="round"/><path d="M727.9,298.3 L727.3,306.2" fill="none" stroke="#6e3232" stroke-width="5.2" stroke-linecap="round" stroke-linejoin="round"/><path d="M747.4,306.2 C746.6,306.3 744.2,306.0 742.4,306.7 C740.6,307.4 738.4,309.2 736.8,310.6 C735.2,312.0 733.6,313.8 732.9,315.1 C732.2,316.4 731.8,317.6 732.4,318.4 C733.0,319.2 735.6,320.0 736.8,320.1 C738.0,320.2 739.0,318.4 739.6,319.0 C740.2,319.6 740.9,322.4 740.7,324.0 C740.5,325.6 738.9,327.8 738.5,328.5" fill="none" stroke="#6e3232" stroke-width="4.4" stroke-linecap="round" stroke-linejoin="round"/><path d="M745.0,332.9 C745.5,333.5 747.4,334.6 747.8,336.3 C748.2,338.0 747.1,340.8 747.3,343.0 C747.5,345.2 748.5,347.6 749.0,349.7 C749.5,351.8 750.0,353.2 750.1,355.3 C750.2,357.4 749.7,360.0 749.5,362.0 C749.3,364.0 749.0,365.6 749.0,367.5 C749.0,369.4 749.4,372.2 749.5,373.1" fill="none" stroke="#6e3232" stroke-width="3.2" stroke-linecap="round" stroke-linejoin="round"/><path d="M745.0,332.9 C745.5,333.5 747.4,334.6 747.8,336.3 C748.2,338.0 747.1,340.8 747.3,343.0 C747.5,345.2 748.5,347.6 749.0,349.7 C749.5,351.8 750.0,353.2 750.1,355.3 C750.2,357.4 749.7,360.0 749.5,362.0 C749.3,364.0 749.0,365.6 749.0,367.5 C749.0,369.4 749.4,372.2 749.5,373.1" fill="none" stroke="#e8c8c0" stroke-width="0.5" stroke-linecap="round"/><path d="M764.6,314.5 C763.8,315.1 760.5,316.8 759.6,318.4 C758.7,320.0 759.7,322.5 759.0,324.0 C758.3,325.5 755.9,326.1 755.6,327.4 C755.3,328.7 756.3,330.5 757.3,331.8 C758.3,333.1 760.1,334.3 761.8,335.2 C763.5,336.1 765.9,336.7 767.4,337.4 C768.9,338.1 770.0,338.3 770.7,339.6 C771.4,340.9 771.4,343.3 771.8,345.2 C772.2,347.1 772.4,349.1 772.9,350.8 C773.4,352.5 774.3,354.6 774.6,355.3" fill="none" stroke="#6e3232" stroke-width="3.4" stroke-linecap="round" stroke-linejoin="round"/><path d="M764.6,314.5 C763.8,315.1 760.5,316.8 759.6,318.4 C758.7,320.0 759.7,322.5 759.0,324.0 C758.3,325.5 755.9,326.1 755.6,327.4 C755.3,328.7 756.3,330.5 757.3,331.8 C758.3,333.1 760.1,334.3 761.8,335.2 C763.5,336.1 765.9,336.7 767.4,337.4 C768.9,338.1 770.0,338.3 770.7,339.6 C771.4,340.9 771.4,343.3 771.8,345.2 C772.2,347.1 772.4,349.1 772.9,350.8 C773.4,352.5 774.3,354.6 774.6,355.3" fill="none" stroke="#e8c8c0" stroke-width="0.5" stroke-linecap="round"/><path d="M766.8,329.6 C767.1,330.4 767.9,332.7 768.5,334.1 C769.1,335.5 770.3,337.4 770.7,338.0" fill="none" stroke="#6e3232" stroke-width="3.2" stroke-linecap="round" stroke-linejoin="round"/><path d="M708.9,338.5 L714.5,345.2" fill="none" stroke="#6e3232" stroke-width="2.6" stroke-linecap="round" stroke-linejoin="round"/><path d="M684.8,357.2 C685.2,357.8 686.3,359.3 687.1,360.7 C687.9,362.1 689.1,364.6 689.5,365.4" fill="none" stroke="#6e3232" stroke-width="1.9" stroke-linecap="round" stroke-linejoin="round"/><path d="M691.9,356.0 C692.1,356.8 692.9,358.9 693.0,360.7 C693.1,362.5 692.5,365.6 692.4,366.6" fill="none" stroke="#6e3232" stroke-width="1.9" stroke-linecap="round" stroke-linejoin="round"/><path d="M698.9,339.5 C698.8,340.7 698.3,344.2 698.3,346.6 C698.3,349.0 698.7,351.2 698.9,353.6 C699.1,356.0 699.3,358.3 699.5,360.7 C699.7,363.1 700.0,366.6 700.1,367.8" fill="none" stroke="#6e3232" stroke-width="1.9" stroke-linecap="round" stroke-linejoin="round"/><path d="M695.4,356.0 C695.5,357.2 695.8,361.1 696.0,363.1 C696.2,365.1 696.5,367.0 696.6,367.8" fill="none" stroke="#6e3232" stroke-width="1.9" stroke-linecap="round" stroke-linejoin="round"/><path d="M756.2,355.3 C756.4,356.0 756.8,358.2 757.3,359.7 C757.8,361.2 758.7,363.4 759.0,364.2" fill="none" stroke="#6e3232" stroke-width="1.9" stroke-linecap="round" stroke-linejoin="round"/><path d="M634.7,22.9 C635.6,23.4 637.8,24.8 639.8,26.2 C641.8,27.6 644.8,29.3 646.9,31.1 C649.0,32.9 650.5,34.6 652.5,36.9 C654.5,39.1 656.6,41.8 658.9,44.6 C661.2,47.4 664.2,51.0 666.5,53.5 C668.8,56.0 671.5,57.4 672.9,59.9 C674.3,62.4 674.7,65.6 674.7,68.8 C674.7,72.0 673.6,75.6 672.9,79.0 C672.2,82.4 671.1,85.8 670.4,89.2 C669.7,92.6 668.6,96.0 668.6,99.4 C668.6,102.8 670.1,106.4 670.4,109.6 C670.7,112.8 671.0,115.8 670.4,118.5 C669.8,121.2 667.4,123.8 666.5,126.1 C665.6,128.4 664.9,130.2 665.3,132.5 C665.7,134.8 667.2,137.5 669.1,140.1 C671.0,142.7 674.4,145.2 676.7,147.8 C679.0,150.4 681.6,152.4 683.1,155.4 C684.6,158.4 685.2,162.2 685.6,165.6 C686.0,169.0 685.0,172.4 685.6,175.8 C686.2,179.2 687.6,182.6 689.5,186.0 C691.4,189.4 695.4,193.9 697.1,196.2 C698.8,198.5 699.2,199.4 699.6,200.0" fill="none" stroke="#ffc814" stroke-width="3.4" stroke-linecap="round" stroke-dasharray="1.1 5.8"/><path d="M730.2,127.4 C728.9,127.4 725.2,126.8 722.6,127.4 C720.0,128.0 717.5,129.9 714.9,131.2 C712.3,132.5 709.6,133.5 707.3,135.0 C705.0,136.5 702.8,138.0 700.9,140.1 C699.0,142.2 697.7,145.5 695.8,147.8 C693.9,150.1 691.4,152.4 689.5,154.1 C687.6,155.8 685.2,157.3 684.4,158.0" fill="none" stroke="#ffc814" stroke-width="3.4" stroke-linecap="round" stroke-dasharray="1.1 5.8"/><path d="M593.9,84.1 C593.5,85.1 592.2,88.1 591.4,90.4 C590.5,92.7 589.9,95.8 588.8,98.1 C587.7,100.4 586.2,102.4 584.8,104.3 C583.4,106.2 581.7,108.0 580.3,109.7 C578.9,111.4 578.1,112.8 576.4,114.3 C574.7,115.8 572.5,117.8 570.3,118.9 C568.1,120.0 565.6,120.5 563.4,121.1 C561.2,121.7 559.3,121.7 557.3,122.7 C555.3,123.7 553.1,125.7 551.2,127.3 C549.3,128.9 547.4,130.8 545.9,132.6 C544.4,134.4 542.8,136.1 542.0,138.0 C541.2,139.9 541.0,141.8 541.3,144.1 C541.6,146.4 542.3,149.7 543.6,151.7 C544.9,153.7 547.4,154.5 548.9,156.3 C550.4,158.1 551.9,160.2 552.7,162.4 C553.5,164.6 553.9,167.3 553.5,169.3 C553.1,171.3 551.6,173.2 550.4,174.6 C549.2,176.0 548.2,176.1 546.5,177.7 C544.8,179.3 541.2,181.3 540.1,184.1 C539.0,186.9 539.5,191.3 540.1,194.3 C540.7,197.3 543.5,199.2 543.9,201.9 C544.3,204.7 543.8,208.2 542.7,210.8 C541.7,213.4 539.3,214.9 537.6,217.2 C535.9,219.5 533.8,222.2 532.5,224.8 C531.2,227.4 530.3,229.9 529.9,232.5 C529.5,235.1 530.3,237.8 529.9,240.1 C529.5,242.4 528.7,243.9 527.4,246.5 C526.1,249.1 523.8,252.8 522.3,255.4 C520.8,257.9 519.6,259.7 518.5,261.8 C517.4,263.9 517.0,265.9 515.9,268.2 C514.8,270.5 513.0,273.5 512.1,275.8 C511.2,278.1 511.0,281.1 510.8,282.2" fill="none" stroke="#ffc814" stroke-width="3.4" stroke-linecap="round" stroke-dasharray="1.1 5.8"/><path d="M542.0,141.0 C543.1,141.4 546.7,142.5 548.9,143.3 C551.1,144.1 553.0,144.7 555.0,145.6 C557.0,146.5 558.9,147.7 561.1,148.7 C563.3,149.7 565.7,150.4 568.0,151.7 C570.3,153.0 572.7,154.9 574.9,156.3 C577.1,157.7 579.0,158.8 581.0,160.1 C583.0,161.4 585.2,162.6 587.1,163.9 C589.0,165.2 590.6,166.3 592.5,167.8 C594.4,169.3 596.7,171.4 598.6,173.1 C600.5,174.8 602.4,176.0 603.9,177.7 C605.4,179.4 605.9,181.2 607.9,183.4 C609.9,185.6 613.0,188.6 615.6,191.1 C618.2,193.6 620.8,195.9 623.2,198.7 C625.7,201.4 627.8,205.3 630.3,207.6 C632.8,209.9 635.0,211.6 638.0,212.7 C641.0,213.8 644.8,214.2 648.2,214.0 C651.6,213.8 654.9,212.6 658.3,211.5 C661.7,210.4 664.9,208.9 668.5,207.6 C672.1,206.3 676.5,204.9 680.0,203.8 C683.5,202.7 685.7,201.8 689.3,201.2 C692.9,200.6 699.6,200.2 701.7,200.0" fill="none" stroke="#ffc814" stroke-width="3.4" stroke-linecap="round" stroke-dasharray="1.1 5.8"/><path d="M700.4,205.0 C699.8,206.7 698.4,211.8 696.7,214.9 C695.1,218.0 692.4,220.7 690.5,223.6 C688.6,226.5 686.6,229.5 685.6,232.2 C684.6,234.9 684.3,237.2 684.3,239.7 C684.3,242.2 686.0,244.8 685.6,247.1 C685.2,249.4 684.1,251.7 681.8,253.3 C679.5,255.0 675.2,256.0 671.9,257.0 C668.6,258.0 664.7,258.1 662.0,259.5 C659.3,260.9 657.7,263.2 655.8,265.7 C653.9,268.2 652.0,271.3 650.8,274.4 C649.6,277.5 649.0,281.0 648.4,284.3 C647.8,287.6 647.7,290.9 647.1,294.2 C646.5,297.5 645.6,300.7 644.6,304.2 C643.6,307.7 642.5,311.6 640.9,315.3 C639.2,319.0 637.4,322.6 634.7,326.5 C632.0,330.4 628.1,335.6 624.8,338.9 C621.5,342.2 618.2,344.4 614.9,346.3 C611.6,348.2 607.5,348.5 605.0,350.0 C602.5,351.5 601.9,353.9 599.7,355.4 C597.6,356.9 594.6,358.1 592.1,359.2 C589.6,360.3 585.8,361.4 584.5,361.8" fill="none" stroke="#ffc814" stroke-width="3.4" stroke-linecap="round" stroke-dasharray="1.1 5.8"/><path d="M776.1,262.0 C774.5,262.2 769.5,262.6 766.2,263.2 C762.9,263.8 759.5,264.7 756.2,265.7 C752.9,266.7 749.6,267.9 746.3,269.4 C743.0,270.8 739.3,272.3 736.4,274.4 C733.5,276.5 731.1,279.3 729.0,281.8 C726.9,284.3 725.7,286.6 724.0,289.3 C722.3,292.0 721.1,295.5 719.0,298.0 C716.9,300.5 714.5,302.3 711.6,304.2 C708.7,306.1 705.0,307.7 701.7,309.1 C698.4,310.5 695.1,311.6 691.8,312.8 C688.5,314.1 683.5,316.0 681.8,316.6" fill="none" stroke="#ffc814" stroke-width="3.4" stroke-linecap="round" stroke-dasharray="1.1 5.8"/><path d="M778.6,299.2 C776.9,299.6 771.9,300.9 768.6,301.7 C765.3,302.5 762.0,303.4 758.7,304.2 C755.4,305.0 751.9,305.4 748.8,306.6 C745.7,307.8 742.4,309.9 740.1,311.6 C737.8,313.3 737.1,315.0 735.2,316.6 C733.4,318.2 731.3,319.9 729.0,321.5 C726.7,323.1 724.0,324.9 721.5,326.5 C719.0,328.1 716.2,329.5 714.1,331.4 C712.0,333.2 710.6,335.1 709.1,337.6 C707.6,340.1 706.2,343.2 705.4,346.3 C704.6,349.4 704.6,352.5 704.2,356.2 C703.8,359.9 703.3,364.9 702.9,368.6 C702.5,372.3 701.9,376.9 701.7,378.6" fill="none" stroke="#ffc814" stroke-width="3.4" stroke-linecap="round" stroke-dasharray="1.1 5.8"/><path d="M621.4,375.8 C622.9,374.9 627.3,372.4 630.3,370.7 C633.3,369.0 636.4,367.3 639.2,365.6 C642.0,363.9 644.6,362.4 646.9,360.5 C649.2,358.6 651.3,356.4 653.2,354.1 C655.1,351.8 656.8,349.0 658.3,346.5 C659.8,344.0 660.9,341.7 662.2,338.9 C663.5,336.1 665.4,331.4 666.0,329.9" fill="none" stroke="#ffc814" stroke-width="3.4" stroke-linecap="round" stroke-dasharray="1.1 5.8"/><text x="494.5" y="190.4" font-weight="bold" font-size="10.6" textLength="3.6" lengthAdjust="spacingAndGlyphs" fill="#000" stroke="#000" stroke-width="0.3">I</text><text x="621.4" y="130.4" font-weight="bold" font-size="10.6" textLength="7.3" lengthAdjust="spacingAndGlyphs" fill="#000" stroke="#000" stroke-width="0.3">II</text><text x="587.5" y="250.4" font-weight="bold" font-size="10.6" textLength="10.8" lengthAdjust="spacingAndGlyphs" fill="#000" stroke="#000" stroke-width="0.3">III</text><text x="688.9" y="109.5" font-weight="bold" font-size="10.6" textLength="12.2" lengthAdjust="spacingAndGlyphs" fill="#000" stroke="#000" stroke-width="0.3">IV</text><text x="716.5" y="246.5" font-weight="bold" font-size="10.6" textLength="8.6" lengthAdjust="spacingAndGlyphs" fill="#000" stroke="#000" stroke-width="0.3">V</text><text x="708.8" y="320.4" font-weight="bold" font-size="10.6" textLength="12.2" lengthAdjust="spacingAndGlyphs" fill="#000" stroke="#000" stroke-width="0.3">VI</text><text x="750.1" y="348.5" font-weight="bold" font-size="10.6" textLength="15.8" lengthAdjust="spacingAndGlyphs" fill="#000" stroke="#000" stroke-width="0.3">VII</text><text x="632.0" y="344.5" font-weight="bold" font-size="10.6" textLength="19.4" lengthAdjust="spacingAndGlyphs" fill="#000" stroke="#000" stroke-width="0.3">VIII</text></g><rect x="404.2" y="219.1" width="23.2" height="174" fill="url(#lgA)"/><text x="404.2" y="213.9" font-size="10.2" textLength="32.9" lengthAdjust="spacingAndGlyphs" fill="#111">CDRI</text><text x="432.9" y="227.4" font-size="9.6" textLength="16" lengthAdjust="spacingAndGlyphs" fill="#111">70</text><text x="432.9" y="246.17" font-size="9.6" textLength="16" lengthAdjust="spacingAndGlyphs" fill="#111">66</text><text x="432.9" y="264.94" font-size="9.6" textLength="16" lengthAdjust="spacingAndGlyphs" fill="#111">62</text><text x="432.9" y="283.71" font-size="9.6" textLength="16" lengthAdjust="spacingAndGlyphs" fill="#111">58</text><text x="432.9" y="302.48" font-size="9.6" textLength="16" lengthAdjust="spacingAndGlyphs" fill="#111">54</text><text x="432.9" y="321.25" font-size="9.6" textLength="16" lengthAdjust="spacingAndGlyphs" fill="#111">50</text><text x="432.9" y="340.02" font-size="9.6" textLength="16" lengthAdjust="spacingAndGlyphs" fill="#111">46</text><text x="432.9" y="358.79" font-size="9.6" textLength="16" lengthAdjust="spacingAndGlyphs" fill="#111">42</text><text x="432.9" y="377.56" font-size="9.6" textLength="16" lengthAdjust="spacingAndGlyphs" fill="#111">38</text><text x="432.9" y="396.33" font-size="9.6" textLength="16" lengthAdjust="spacingAndGlyphs" fill="#111">34</text><rect x="2.3" y="628.7" width="23.3" height="172.0" fill="url(#lgB)"/><text x="0.8" y="623.6" font-size="11" textLength="32.5" lengthAdjust="spacingAndGlyphs" fill="#111">CDRI</text><text x="31" y="651.0" font-size="9" textLength="16.8" lengthAdjust="spacingAndGlyphs" fill="#111">78</text><text x="31" y="670.17" font-size="9" textLength="16.8" lengthAdjust="spacingAndGlyphs" fill="#111">72</text><text x="31" y="689.34" font-size="9" textLength="16.8" lengthAdjust="spacingAndGlyphs" fill="#111">66</text><text x="31" y="708.51" font-size="9" textLength="16.8" lengthAdjust="spacingAndGlyphs" fill="#111">60</text><text x="31" y="727.68" font-size="9" textLength="16.8" lengthAdjust="spacingAndGlyphs" fill="#111">54</text><text x="31" y="746.85" font-size="9" textLength="16.8" lengthAdjust="spacingAndGlyphs" fill="#111">48</text><text x="31" y="766.02" font-size="9" textLength="16.8" lengthAdjust="spacingAndGlyphs" fill="#111">42</text><text x="31" y="785.19" font-size="9" textLength="16.8" lengthAdjust="spacingAndGlyphs" fill="#111">36</text><text x="31" y="804.36" font-size="9" textLength="16.8" lengthAdjust="spacingAndGlyphs" fill="#111">30</text><rect x="403" y="629.1" width="24.1" height="171.6" fill="url(#lgC)"/><text x="400.7" y="622.1" font-size="11" textLength="32.5" lengthAdjust="spacingAndGlyphs" fill="#111">CDRI</text><text x="432.4" y="651.7" font-size="9.2" textLength="16.4" lengthAdjust="spacingAndGlyphs" fill="#111">70</text><text x="432.4" y="670.9" font-size="9.2" textLength="16.4" lengthAdjust="spacingAndGlyphs" fill="#111">66</text><text x="432.4" y="690.1" font-size="9.2" textLength="16.4" lengthAdjust="spacingAndGlyphs" fill="#111">62</text><text x="432.4" y="709.3" font-size="9.2" textLength="16.4" lengthAdjust="spacingAndGlyphs" fill="#111">58</text><text x="432.4" y="728.5" font-size="9.2" textLength="16.4" lengthAdjust="spacingAndGlyphs" fill="#111">54</text><text x="432.4" y="747.7" font-size="9.2" textLength="16.4" lengthAdjust="spacingAndGlyphs" fill="#111">50</text><text x="432.4" y="766.9" font-size="9.2" textLength="16.4" lengthAdjust="spacingAndGlyphs" fill="#111">46</text><text x="432.4" y="786.1" font-size="9.2" textLength="16.4" lengthAdjust="spacingAndGlyphs" fill="#111">42</text><text x="432.4" y="805.3" font-size="9.2" textLength="16.4" lengthAdjust="spacingAndGlyphs" fill="#111">38</text>
<text x="56.1" y="74.0" font-size="16.3" font-weight="bold" textLength="201.3" lengthAdjust="spacingAndGlyphs" fill="#111">GANGETIC WEST BENGAL</text><text x="84" y="113.9" font-size="16.3" textLength="142.6" lengthAdjust="spacingAndGlyphs" fill="#111">Drought Risk Map</text><text x="117" y="168.2" font-size="15.5" textLength="81" lengthAdjust="spacingAndGlyphs" fill="#111">[based on-</text><text x="13" y="187.6" font-size="15.5" textLength="286.7" lengthAdjust="spacingAndGlyphs" fill="#111">Composite Drought Risk Index, CDRI]</text><text x="101.8" y="256.9" font-size="14.4" textLength="125.6" lengthAdjust="spacingAndGlyphs" fill="#111">Drought prone area</text><text x="93.1" y="273.4" font-size="14.4" textLength="146.4" lengthAdjust="spacingAndGlyphs" fill="#111">[as per WBPCB, 2009]</text><text x="39" y="317.6" font-size="13.4" textLength="285.8" lengthAdjust="spacingAndGlyphs" fill="#111">I, II, ... VIII  indicates Physiographic Divisions</text><g><rect x="35.5" y="247.4" width="42.5" height="26" fill="#fff" stroke="#ffcc99" stroke-width="1.3"/><path d="M37,273 L62,248 M52,273 L77,248 M67,273.4 L78,262.4 M35.5,259.5 L47,248" stroke="#ffcc99" stroke-width="1.2" fill="none"/></g><text x="431.8" y="26.2" font-size="27" font-weight="bold" textLength="13.6" lengthAdjust="spacingAndGlyphs" fill="#111">a</text><text x="462.4" y="25.5" font-size="12.4" textLength="85.4" lengthAdjust="spacingAndGlyphs" fill="#111">3- MONTHS /</text><text x="414" y="42.0" font-size="12.4" textLength="161.3" lengthAdjust="spacingAndGlyphs" fill="#111">SEASONAL CONDITION</text><text x="40.3" y="435.6" font-size="27" font-weight="bold" textLength="14.5" lengthAdjust="spacingAndGlyphs" fill="#111">b</text><text x="63.7" y="438.1" font-size="12.4" textLength="91.7" lengthAdjust="spacingAndGlyphs" fill="#111">12- MONTHS /</text><text x="26.8" y="455.2" font-size="12.4" textLength="141.4" lengthAdjust="spacingAndGlyphs" fill="#111">ANNUAL CONDITION</text><text x="431.8" y="435.6" font-size="27" font-weight="bold" textLength="14.1" lengthAdjust="spacingAndGlyphs" fill="#111">c</text><text x="462.9" y="434.3" font-size="12.4" textLength="98.9" lengthAdjust="spacingAndGlyphs" fill="#111">24- MONTHS /</text><text x="409.4" y="450.9" font-size="12.4" textLength="179.6" lengthAdjust="spacingAndGlyphs" fill="#111">LONG-TERM CONDITION</text>
</svg>
</body></html>
